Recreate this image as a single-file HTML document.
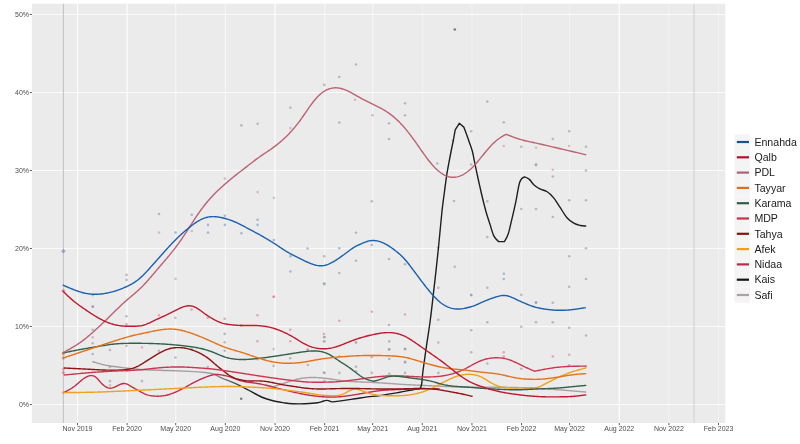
<!DOCTYPE html><html><head><meta charset="utf-8"><style>html,body{margin:0;padding:0;background:#fff;width:800px;height:444px;overflow:hidden}svg{display:block;will-change:transform}text{font-family:"Liberation Sans",sans-serif}</style></head><body>
<svg width="800" height="444" viewBox="0 0 800 444">
<rect x="0" y="0" width="800" height="444" fill="#ffffff"/>
<rect x="31.9" y="3.8" width="693.4" height="419.2" fill="#ebebeb"/>
<defs><linearGradient id="kg" gradientUnits="userSpaceOnUse" x1="212" y1="0" x2="250" y2="0"><stop offset="0" stop-color="#a49ca2"/><stop offset="1" stop-color="#1e1e1e"/></linearGradient><clipPath id="cp"><rect x="31.9" y="3.8" width="693.4" height="419.2"/></clipPath></defs>
<g stroke="#ffffff" stroke-width="1.0" stroke-opacity="0.8"><line x1="31.9" x2="725.3" y1="404.50" y2="404.50"/><line x1="31.9" x2="725.3" y1="326.50" y2="326.50"/><line x1="31.9" x2="725.3" y1="248.50" y2="248.50"/><line x1="31.9" x2="725.3" y1="170.50" y2="170.50"/><line x1="31.9" x2="725.3" y1="92.50" y2="92.50"/><line x1="31.9" x2="725.3" y1="14.50" y2="14.50"/></g>
<g stroke="#ffffff" stroke-width="1.2"><line x1="77.50" x2="77.50" y1="3.8" y2="423.0" stroke-opacity="0.90"/><line x1="127.14" x2="127.14" y1="3.8" y2="423.0" stroke-opacity="0.90"/><line x1="175.71" x2="175.71" y1="3.8" y2="423.0" stroke-opacity="0.55"/><line x1="225.35" x2="225.35" y1="3.8" y2="423.0" stroke-opacity="0.55"/><line x1="274.99" x2="274.99" y1="3.8" y2="423.0" stroke-opacity="0.90"/><line x1="324.64" x2="324.64" y1="3.8" y2="423.0" stroke-opacity="0.55"/><line x1="372.66" x2="372.66" y1="3.8" y2="423.0" stroke-opacity="0.55"/><line x1="422.30" x2="422.30" y1="3.8" y2="423.0" stroke-opacity="0.30"/><line x1="471.95" x2="471.95" y1="3.8" y2="423.0" stroke-opacity="0.30"/><line x1="521.59" x2="521.59" y1="3.8" y2="423.0" stroke-opacity="0.30"/><line x1="569.62" x2="569.62" y1="3.8" y2="423.0" stroke-opacity="0.30"/><line x1="619.26" x2="619.26" y1="3.8" y2="423.0" stroke-opacity="0.90"/><line x1="668.90" x2="668.90" y1="3.8" y2="423.0" stroke-opacity="0.30"/><line x1="718.54" x2="718.54" y1="3.8" y2="423.0" stroke-opacity="0.30"/></g>
<line x1="63.4" x2="63.4" y1="3.8" y2="423.0" stroke="#bbbbbb" stroke-width="0.9"/>
<line x1="694" x2="694" y1="3.8" y2="423.0" stroke="#d4d4d4" stroke-width="1.2"/>
<g clip-path="url(#cp)">
<circle cx="241.4" cy="125.4" r="1.30" fill="#8e8e96" fill-opacity="0.55"/>
<circle cx="257.6" cy="123.7" r="1.30" fill="#8e8e96" fill-opacity="0.55"/>
<circle cx="290.4" cy="107.8" r="1.30" fill="#8e8e96" fill-opacity="0.55"/>
<circle cx="290.4" cy="128.1" r="1.30" fill="#c8909c" fill-opacity="0.55"/>
<circle cx="324.2" cy="84.9" r="1.30" fill="#8e8e96" fill-opacity="0.55"/>
<circle cx="454.8" cy="29.5" r="1.30" fill="#555555" fill-opacity="0.75"/>
<circle cx="356.0" cy="64.5" r="1.30" fill="#8e8e96" fill-opacity="0.55"/>
<circle cx="339.3" cy="77.0" r="1.30" fill="#8e8e96" fill-opacity="0.55"/>
<circle cx="355.0" cy="99.8" r="1.30" fill="#c8909c" fill-opacity="0.55"/>
<circle cx="405.0" cy="103.3" r="1.30" fill="#8e8e96" fill-opacity="0.55"/>
<circle cx="405.0" cy="115.2" r="1.30" fill="#8e8e96" fill-opacity="0.55"/>
<circle cx="372.5" cy="115.2" r="1.30" fill="#c8909c" fill-opacity="0.55"/>
<circle cx="339.3" cy="122.6" r="1.30" fill="#8e8e96" fill-opacity="0.55"/>
<circle cx="389.0" cy="123.3" r="1.30" fill="#8e8e96" fill-opacity="0.55"/>
<circle cx="389.0" cy="139.0" r="1.30" fill="#8e8e96" fill-opacity="0.55"/>
<circle cx="487.3" cy="101.6" r="1.30" fill="#8e8e96" fill-opacity="0.55"/>
<circle cx="503.8" cy="122.2" r="1.30" fill="#8e8e96" fill-opacity="0.55"/>
<circle cx="471.2" cy="131.3" r="1.30" fill="#8e8e96" fill-opacity="0.55"/>
<circle cx="503.8" cy="146.0" r="1.30" fill="#c8909c" fill-opacity="0.55"/>
<circle cx="521.3" cy="146.7" r="1.30" fill="#8e8e96" fill-opacity="0.55"/>
<circle cx="536.0" cy="147.8" r="1.30" fill="#c8909c" fill-opacity="0.55"/>
<circle cx="536.0" cy="164.2" r="1.30" fill="#8e8e96" fill-opacity="0.55"/>
<circle cx="552.8" cy="139.0" r="1.30" fill="#8e8e96" fill-opacity="0.55"/>
<circle cx="569.2" cy="131.3" r="1.30" fill="#8e8e96" fill-opacity="0.55"/>
<circle cx="569.2" cy="146.0" r="1.30" fill="#c8909c" fill-opacity="0.55"/>
<circle cx="586.0" cy="146.7" r="1.30" fill="#8e8e96" fill-opacity="0.55"/>
<circle cx="437.3" cy="163.5" r="1.30" fill="#8e8e96" fill-opacity="0.55"/>
<circle cx="471.2" cy="164.6" r="1.30" fill="#8e8e96" fill-opacity="0.55"/>
<circle cx="453.0" cy="140.8" r="1.30" fill="#c8909c" fill-opacity="0.55"/>
<circle cx="371.8" cy="201.3" r="1.30" fill="#8e8e96" fill-opacity="0.55"/>
<circle cx="454.0" cy="201.0" r="1.30" fill="#8e8e96" fill-opacity="0.55"/>
<circle cx="487.3" cy="201.3" r="1.30" fill="#8e8e96" fill-opacity="0.55"/>
<circle cx="536.0" cy="165.3" r="1.30" fill="#8e8e96" fill-opacity="0.55"/>
<circle cx="552.8" cy="176.5" r="1.30" fill="#8e8e96" fill-opacity="0.55"/>
<circle cx="552.8" cy="169.8" r="1.30" fill="#c8909c" fill-opacity="0.55"/>
<circle cx="586.0" cy="170.5" r="1.30" fill="#8e8e96" fill-opacity="0.55"/>
<circle cx="521.3" cy="209.0" r="1.30" fill="#8e8e96" fill-opacity="0.55"/>
<circle cx="536.0" cy="209.0" r="1.30" fill="#8e8e96" fill-opacity="0.55"/>
<circle cx="552.8" cy="217.0" r="1.30" fill="#8e8e96" fill-opacity="0.55"/>
<circle cx="569.2" cy="200.3" r="1.30" fill="#8e8e96" fill-opacity="0.55"/>
<circle cx="586.0" cy="200.3" r="1.30" fill="#8e8e96" fill-opacity="0.55"/>
<circle cx="487.3" cy="237.0" r="1.30" fill="#8e8e96" fill-opacity="0.55"/>
<circle cx="586.0" cy="248.2" r="1.30" fill="#8e8e96" fill-opacity="0.55"/>
<circle cx="569.2" cy="256.3" r="1.30" fill="#8e8e96" fill-opacity="0.55"/>
<circle cx="356.0" cy="232.8" r="1.30" fill="#8e8e96" fill-opacity="0.55"/>
<circle cx="339.3" cy="248.2" r="1.30" fill="#6f8cc0" fill-opacity="0.55"/>
<circle cx="356.0" cy="260.8" r="1.30" fill="#8e8e96" fill-opacity="0.55"/>
<circle cx="371.8" cy="245.0" r="1.30" fill="#6f8cc0" fill-opacity="0.55"/>
<circle cx="389.0" cy="259.0" r="1.30" fill="#8e8e96" fill-opacity="0.55"/>
<circle cx="405.0" cy="264.3" r="1.30" fill="#8e8e96" fill-opacity="0.55"/>
<circle cx="339.3" cy="273.0" r="1.30" fill="#8e8e96" fill-opacity="0.55"/>
<circle cx="324.2" cy="283.2" r="1.30" fill="#8e8e96" fill-opacity="0.55"/>
<circle cx="438.3" cy="247.5" r="1.30" fill="#8e8e96" fill-opacity="0.55"/>
<circle cx="454.8" cy="266.8" r="1.30" fill="#8e8e96" fill-opacity="0.55"/>
<circle cx="438.3" cy="287.8" r="1.30" fill="#8e8e96" fill-opacity="0.55"/>
<circle cx="471.2" cy="294.8" r="1.30" fill="#6f8cc0" fill-opacity="0.55"/>
<circle cx="487.3" cy="287.8" r="1.30" fill="#8e8e96" fill-opacity="0.55"/>
<circle cx="503.8" cy="273.8" r="1.30" fill="#6f8cc0" fill-opacity="0.55"/>
<circle cx="503.8" cy="279.0" r="1.30" fill="#6f8cc0" fill-opacity="0.55"/>
<circle cx="521.3" cy="294.8" r="1.30" fill="#8e8e96" fill-opacity="0.55"/>
<circle cx="536.0" cy="302.8" r="1.30" fill="#6f8cc0" fill-opacity="0.55"/>
<circle cx="552.8" cy="302.8" r="1.30" fill="#8e8e96" fill-opacity="0.55"/>
<circle cx="569.2" cy="286.7" r="1.30" fill="#8e8e96" fill-opacity="0.55"/>
<circle cx="586.0" cy="279.0" r="1.30" fill="#8e8e96" fill-opacity="0.55"/>
<circle cx="159.0" cy="214.0" r="1.30" fill="#6f8cc0" fill-opacity="0.55"/>
<circle cx="159.0" cy="232.6" r="1.30" fill="#c8909c" fill-opacity="0.55"/>
<circle cx="175.5" cy="232.6" r="1.30" fill="#6f8cc0" fill-opacity="0.55"/>
<circle cx="191.8" cy="214.7" r="1.30" fill="#6f8cc0" fill-opacity="0.55"/>
<circle cx="191.8" cy="231.0" r="1.30" fill="#c8909c" fill-opacity="0.55"/>
<circle cx="208.0" cy="224.9" r="1.30" fill="#6f8cc0" fill-opacity="0.55"/>
<circle cx="208.0" cy="232.6" r="1.30" fill="#6f8cc0" fill-opacity="0.55"/>
<circle cx="224.9" cy="178.6" r="1.30" fill="#c8909c" fill-opacity="0.55"/>
<circle cx="224.9" cy="215.7" r="1.30" fill="#6f8cc0" fill-opacity="0.55"/>
<circle cx="224.9" cy="224.9" r="1.30" fill="#6f8cc0" fill-opacity="0.55"/>
<circle cx="241.4" cy="233.3" r="1.30" fill="#6f8cc0" fill-opacity="0.55"/>
<circle cx="257.6" cy="192.1" r="1.30" fill="#c8909c" fill-opacity="0.55"/>
<circle cx="257.6" cy="219.8" r="1.30" fill="#6f8cc0" fill-opacity="0.55"/>
<circle cx="257.6" cy="224.9" r="1.30" fill="#6f8cc0" fill-opacity="0.55"/>
<circle cx="273.9" cy="197.8" r="1.30" fill="#c8909c" fill-opacity="0.55"/>
<circle cx="273.9" cy="240.1" r="1.30" fill="#6f8cc0" fill-opacity="0.55"/>
<circle cx="290.4" cy="256.3" r="1.30" fill="#6f8cc0" fill-opacity="0.55"/>
<circle cx="290.4" cy="271.5" r="1.30" fill="#6f8cc0" fill-opacity="0.55"/>
<circle cx="307.6" cy="248.5" r="1.30" fill="#6f8cc0" fill-opacity="0.55"/>
<circle cx="324.2" cy="256.3" r="1.30" fill="#8e8e96" fill-opacity="0.55"/>
<circle cx="324.2" cy="284.3" r="1.30" fill="#6f8cc0" fill-opacity="0.55"/>
<circle cx="126.6" cy="274.9" r="1.30" fill="#8e8e96" fill-opacity="0.55"/>
<circle cx="126.6" cy="279.9" r="1.30" fill="#6f8cc0" fill-opacity="0.55"/>
<circle cx="175.5" cy="278.9" r="1.30" fill="#c8909c" fill-opacity="0.55"/>
<circle cx="273.9" cy="296.8" r="1.30" fill="#e0707e" fill-opacity="0.55"/>
<circle cx="92.8" cy="295.1" r="1.30" fill="#6f8cc0" fill-opacity="0.55"/>
<circle cx="92.8" cy="307.0" r="1.30" fill="#8e8e96" fill-opacity="0.55"/>
<circle cx="92.7" cy="306.2" r="1.30" fill="#8e8e96" fill-opacity="0.55"/>
<circle cx="92.7" cy="329.8" r="1.30" fill="#8e8e96" fill-opacity="0.55"/>
<circle cx="92.7" cy="337.2" r="1.30" fill="#c8909c" fill-opacity="0.55"/>
<circle cx="92.7" cy="343.3" r="1.30" fill="#8e8e96" fill-opacity="0.55"/>
<circle cx="92.7" cy="354.1" r="1.30" fill="#8e8e96" fill-opacity="0.55"/>
<circle cx="110.0" cy="350.0" r="1.30" fill="#8e8e96" fill-opacity="0.55"/>
<circle cx="110.0" cy="367.0" r="1.30" fill="#8e8e96" fill-opacity="0.55"/>
<circle cx="110.0" cy="381.1" r="1.30" fill="#8e8e96" fill-opacity="0.55"/>
<circle cx="110.0" cy="385.2" r="1.30" fill="#c8909c" fill-opacity="0.55"/>
<circle cx="126.5" cy="316.3" r="1.30" fill="#8e8e96" fill-opacity="0.55"/>
<circle cx="126.5" cy="324.4" r="1.30" fill="#8e8e96" fill-opacity="0.55"/>
<circle cx="126.5" cy="345.7" r="1.30" fill="#8e8e96" fill-opacity="0.55"/>
<circle cx="126.5" cy="371.0" r="1.30" fill="#8e8e96" fill-opacity="0.55"/>
<circle cx="142.0" cy="347.4" r="1.30" fill="#c8909c" fill-opacity="0.55"/>
<circle cx="142.0" cy="381.1" r="1.30" fill="#8e8e96" fill-opacity="0.55"/>
<circle cx="158.9" cy="315.3" r="1.30" fill="#e0707e" fill-opacity="0.55"/>
<circle cx="158.9" cy="350.7" r="1.30" fill="#8e8e96" fill-opacity="0.55"/>
<circle cx="175.4" cy="317.7" r="1.30" fill="#8e8e96" fill-opacity="0.55"/>
<circle cx="175.4" cy="357.5" r="1.30" fill="#8e8e96" fill-opacity="0.55"/>
<circle cx="191.6" cy="309.6" r="1.30" fill="#e0707e" fill-opacity="0.55"/>
<circle cx="191.6" cy="349.1" r="1.30" fill="#8e8e96" fill-opacity="0.55"/>
<circle cx="207.8" cy="317.7" r="1.30" fill="#8e8e96" fill-opacity="0.55"/>
<circle cx="207.8" cy="367.0" r="1.30" fill="#8e8e96" fill-opacity="0.55"/>
<circle cx="224.7" cy="318.7" r="1.30" fill="#e0707e" fill-opacity="0.55"/>
<circle cx="224.7" cy="333.9" r="1.30" fill="#8e8e96" fill-opacity="0.55"/>
<circle cx="224.7" cy="342.3" r="1.30" fill="#8e8e96" fill-opacity="0.55"/>
<circle cx="224.7" cy="350.7" r="1.30" fill="#8e8e96" fill-opacity="0.55"/>
<circle cx="241.2" cy="325.4" r="1.30" fill="#e0707e" fill-opacity="0.55"/>
<circle cx="241.2" cy="398.7" r="1.30" fill="#555555" fill-opacity="0.75"/>
<circle cx="257.4" cy="315.3" r="1.30" fill="#e0707e" fill-opacity="0.55"/>
<circle cx="257.4" cy="341.3" r="1.30" fill="#e0707e" fill-opacity="0.55"/>
<circle cx="257.4" cy="359.2" r="1.30" fill="#8e8e96" fill-opacity="0.55"/>
<circle cx="273.6" cy="296.7" r="1.30" fill="#e0707e" fill-opacity="0.55"/>
<circle cx="273.6" cy="349.1" r="1.30" fill="#c8909c" fill-opacity="0.55"/>
<circle cx="273.6" cy="365.9" r="1.30" fill="#8e8e96" fill-opacity="0.55"/>
<circle cx="290.2" cy="329.8" r="1.30" fill="#e0707e" fill-opacity="0.55"/>
<circle cx="290.2" cy="341.3" r="1.30" fill="#e0707e" fill-opacity="0.55"/>
<circle cx="290.2" cy="358.2" r="1.30" fill="#8e8e96" fill-opacity="0.55"/>
<circle cx="307.4" cy="350.1" r="1.30" fill="#8e8e96" fill-opacity="0.55"/>
<circle cx="323.9" cy="333.9" r="1.30" fill="#e0707e" fill-opacity="0.55"/>
<circle cx="323.9" cy="341.3" r="1.30" fill="#8e8e96" fill-opacity="0.55"/>
<circle cx="323.9" cy="372.7" r="1.30" fill="#8e8e96" fill-opacity="0.55"/>
<circle cx="339.3" cy="320.8" r="1.30" fill="#e0707e" fill-opacity="0.55"/>
<circle cx="371.8" cy="311.7" r="1.30" fill="#e0707e" fill-opacity="0.55"/>
<circle cx="405.0" cy="314.5" r="1.30" fill="#e0707e" fill-opacity="0.55"/>
<circle cx="324.2" cy="337.3" r="1.30" fill="#8e8e96" fill-opacity="0.55"/>
<circle cx="356.0" cy="342.5" r="1.30" fill="#8e8e96" fill-opacity="0.55"/>
<circle cx="389.0" cy="325.0" r="1.30" fill="#8e8e96" fill-opacity="0.55"/>
<circle cx="389.0" cy="349.5" r="1.30" fill="#8e8e96" fill-opacity="0.55"/>
<circle cx="405.0" cy="348.8" r="1.30" fill="#8e8e96" fill-opacity="0.55"/>
<circle cx="405.0" cy="361.8" r="1.30" fill="#8e8e96" fill-opacity="0.55"/>
<circle cx="438.3" cy="319.8" r="1.30" fill="#8e8e96" fill-opacity="0.55"/>
<circle cx="438.3" cy="342.5" r="1.30" fill="#e0707e" fill-opacity="0.55"/>
<circle cx="471.2" cy="295.3" r="1.30" fill="#8e8e96" fill-opacity="0.55"/>
<circle cx="471.2" cy="330.3" r="1.30" fill="#8e8e96" fill-opacity="0.55"/>
<circle cx="471.2" cy="352.3" r="1.30" fill="#8e8e96" fill-opacity="0.55"/>
<circle cx="487.3" cy="322.2" r="1.30" fill="#8e8e96" fill-opacity="0.55"/>
<circle cx="487.3" cy="363.5" r="1.30" fill="#8e8e96" fill-opacity="0.55"/>
<circle cx="503.8" cy="352.3" r="1.30" fill="#e0707e" fill-opacity="0.55"/>
<circle cx="503.8" cy="356.5" r="1.30" fill="#8e8e96" fill-opacity="0.55"/>
<circle cx="521.3" cy="326.8" r="1.30" fill="#8e8e96" fill-opacity="0.55"/>
<circle cx="521.3" cy="368.8" r="1.30" fill="#8e8e96" fill-opacity="0.55"/>
<circle cx="536.0" cy="302.3" r="1.30" fill="#8e8e96" fill-opacity="0.55"/>
<circle cx="536.0" cy="322.2" r="1.30" fill="#8e8e96" fill-opacity="0.55"/>
<circle cx="552.8" cy="322.2" r="1.30" fill="#8e8e96" fill-opacity="0.55"/>
<circle cx="552.8" cy="356.5" r="1.30" fill="#e0707e" fill-opacity="0.55"/>
<circle cx="569.2" cy="327.8" r="1.30" fill="#8e8e96" fill-opacity="0.55"/>
<circle cx="569.2" cy="354.8" r="1.30" fill="#e0707e" fill-opacity="0.55"/>
<circle cx="569.2" cy="365.3" r="1.30" fill="#8e8e96" fill-opacity="0.55"/>
<circle cx="586.0" cy="335.5" r="1.30" fill="#8e8e96" fill-opacity="0.55"/>
<circle cx="586.0" cy="366.3" r="1.30" fill="#8e8e96" fill-opacity="0.55"/>
<circle cx="324.5" cy="337.0" r="1.30" fill="#8e8e96" fill-opacity="0.55"/>
<circle cx="324.5" cy="341.4" r="1.30" fill="#c8909c" fill-opacity="0.55"/>
<circle cx="307.9" cy="349.3" r="1.30" fill="#c8909c" fill-opacity="0.55"/>
<circle cx="356.0" cy="342.3" r="1.30" fill="#c8909c" fill-opacity="0.55"/>
<circle cx="389.3" cy="341.4" r="1.30" fill="#8e8e96" fill-opacity="0.55"/>
<circle cx="405.1" cy="349.3" r="1.30" fill="#8e8e96" fill-opacity="0.55"/>
<circle cx="389.3" cy="349.3" r="1.30" fill="#8e8e96" fill-opacity="0.55"/>
<circle cx="307.9" cy="365.0" r="1.30" fill="#8e8e96" fill-opacity="0.55"/>
<circle cx="324.5" cy="372.9" r="1.30" fill="#8e8e96" fill-opacity="0.55"/>
<circle cx="339.4" cy="372.9" r="1.30" fill="#8e8e96" fill-opacity="0.55"/>
<circle cx="356.0" cy="366.8" r="1.30" fill="#8e8e96" fill-opacity="0.55"/>
<circle cx="356.0" cy="371.2" r="1.30" fill="#8e8e96" fill-opacity="0.55"/>
<circle cx="371.8" cy="372.9" r="1.30" fill="#8e8e96" fill-opacity="0.55"/>
<circle cx="389.3" cy="373.8" r="1.30" fill="#8e8e96" fill-opacity="0.55"/>
<circle cx="405.1" cy="372.9" r="1.30" fill="#8e8e96" fill-opacity="0.55"/>
<circle cx="339.4" cy="356.3" r="1.30" fill="#c8909c" fill-opacity="0.55"/>
<circle cx="371.8" cy="357.1" r="1.30" fill="#8e8e96" fill-opacity="0.55"/>
<circle cx="389.3" cy="358.9" r="1.30" fill="#8e8e96" fill-opacity="0.55"/>
<circle cx="405.1" cy="362.4" r="1.30" fill="#8e8e96" fill-opacity="0.55"/>
<circle cx="324.5" cy="380.8" r="1.30" fill="#8e8e96" fill-opacity="0.55"/>
<circle cx="339.4" cy="380.8" r="1.30" fill="#8e8e96" fill-opacity="0.55"/>
<circle cx="438.4" cy="372.9" r="1.30" fill="#8e8e96" fill-opacity="0.55"/>
<path d="M63.4,248.8 L65.8,251.2 L63.4,253.6 L61.0,251.2 Z" fill="#6a84b4" fill-opacity="0.60"/>
<path d="M63.4,288.6 L65.6,290.8 L63.4,293.0 L61.2,290.8 Z" fill="#e06070" fill-opacity="0.55"/>
<path d="M63.4,350.9 L65.3,352.8 L63.4,354.7 L61.5,352.8 Z" fill="#d08090" fill-opacity="0.50"/>
<path d="M63.4,352.7 L65.3,354.6 L63.4,356.5 L61.5,354.6 Z" fill="#f09040" fill-opacity="0.50"/>
<path d="M63.4,356.3 L65.3,358.2 L63.4,360.1 L61.5,358.2 Z" fill="#608878" fill-opacity="0.50"/>
<path d="M63.4,367.3 L65.3,369.2 L63.4,371.1 L61.5,369.2 Z" fill="#e07080" fill-opacity="0.50"/>
<path d="M63.4,370.8 L65.3,372.7 L63.4,374.6 L61.5,372.7 Z" fill="#c05060" fill-opacity="0.50"/>
<path d="M63.4,390.7 L65.4,392.7 L63.4,394.7 L61.4,392.7 Z" fill="#f08a50" fill-opacity="0.55"/>
<path d="M272.0,387.00 L273.0,386.69 L274.0,386.39 L275.0,386.08 L276.0,385.77 L277.0,385.46 L278.0,385.15 L279.0,384.84 L280.0,384.52 L281.0,384.21 L282.0,383.89 L283.0,383.58 L284.0,383.25 L285.0,382.93 L286.0,382.61 L287.0,382.28 L288.0,381.95 L289.0,381.63 L290.0,381.31 L291.0,381.00 L292.0,380.69 L293.0,380.39 L294.0,380.09 L295.0,379.81 L296.0,379.55 L297.0,379.29 L298.0,379.05 L299.0,378.83 L300.0,378.63 L301.0,378.44 L302.0,378.27 L303.0,378.12 L304.0,377.99 L305.0,377.87 L306.0,377.77 L307.0,377.68 L308.0,377.61 L309.0,377.56 L310.0,377.51 L311.0,377.49 L312.0,377.47 L313.0,377.47 L314.0,377.48 L315.0,377.51 L316.0,377.54 L317.0,377.58 L318.0,377.64 L319.0,377.70 L320.0,377.77 L321.0,377.85 L322.0,377.93 L323.0,378.02 L324.0,378.12 L325.0,378.23 L326.0,378.34 L327.0,378.46 L328.0,378.59 L329.0,378.73 L330.0,378.87 L331.0,379.03 L332.0,379.19 L333.0,379.35 L334.0,379.51 L335.0,379.68 L336.0,379.85 L337.0,380.01 L338.0,380.17 L339.0,380.32 L340.0,380.47 L341.0,380.60 L342.0,380.73 L343.0,380.84 L344.0,380.95 L345.0,381.05 L346.0,381.14 L347.0,381.22 L348.0,381.30 L349.0,381.37 L350.0,381.43 L351.0,381.50 L352.0,381.55 L353.0,381.60 L354.0,381.65 L355.0,381.70 L356.0,381.74 L357.0,381.78 L358.0,381.82 L359.0,381.86 L360.0,381.90 L361.0,381.93 L362.0,381.97 L363.0,382.01 L364.0,382.06 L365.0,382.10 L366.0,382.14 L367.0,382.18 L368.0,382.23 L369.0,382.27 L370.0,382.32 L371.0,382.37 L372.0,382.41 L373.0,382.46 L374.0,382.52 L375.0,382.57 L376.0,382.62 L377.0,382.68 L378.0,382.73 L379.0,382.79 L380.0,382.85 L381.0,382.92 L382.0,382.98 L383.0,383.04 L384.0,383.11 L385.0,383.18 L386.0,383.25 L387.0,383.32 L388.0,383.39 L389.0,383.46 L390.0,383.53 L391.0,383.60 L392.0,383.67 L393.0,383.74 L394.0,383.81 L395.0,383.88 L396.0,383.95 L397.0,384.02 L398.0,384.09 L399.0,384.15 L400.0,384.22 L401.0,384.28 L402.0,384.35 L403.0,384.41 L404.0,384.47 L405.0,384.52 L406.0,384.58 L407.0,384.63 L408.0,384.69 L409.0,384.74 L410.0,384.79 L411.0,384.84 L412.0,384.89 L413.0,384.94 L414.0,384.99 L415.0,385.04 L416.0,385.09 L417.0,385.13 L418.0,385.18 L419.0,385.23 L420.0,385.27 L421.0,385.32 L422.0,385.37 L423.0,385.41 L424.0,385.46 L425.0,385.51 L426.0,385.55 L427.0,385.60 L428.0,385.65 L429.0,385.70 L430.0,385.75 L431.0,385.79 L432.0,385.84 L433.0,385.89 L434.0,385.94 L435.0,385.99 L436.0,386.03 L437.0,386.08 L438.0,386.13 L439.0,386.17 L440.0,386.22 L441.0,386.26 L442.0,386.31 L443.0,386.35 L444.0,386.40 L445.0,386.44 L446.0,386.48 L447.0,386.52 L448.0,386.56 L449.0,386.60 L450.0,386.63 L451.0,386.67 L452.0,386.70 L453.0,386.73 L454.0,386.77 L455.0,386.80 L456.0,386.82 L457.0,386.85 L458.0,386.87 L459.0,386.90 L460.0,386.92 L461.0,386.94 L462.0,386.96 L463.0,386.98 L464.0,387.00 L465.0,387.01 L466.0,387.03 L467.0,387.04 L468.0,387.05 L469.0,387.07 L470.0,387.08 L471.0,387.09 L472.0,387.10 L473.0,387.10 L474.0,387.11 L475.0,387.12 L476.0,387.13 L477.0,387.13 L478.0,387.14 L479.0,387.14 L480.0,387.15 L481.0,387.15 L482.0,387.16 L483.0,387.16 L484.0,387.17 L485.0,387.17 L486.0,387.17 L487.0,387.18 L488.0,387.18 L489.0,387.18 L490.0,387.19 L491.0,387.19 L492.0,387.20 L493.0,387.20 L494.0,387.21 L495.0,387.21 L496.0,387.22 L497.0,387.23 L498.0,387.23 L499.0,387.24 L500.0,387.25 L501.0,387.26 L502.0,387.27 L503.0,387.28 L504.0,387.29 L505.0,387.30 L506.0,387.31 L507.0,387.33 L508.0,387.34 L509.0,387.36 L510.0,387.38 L511.0,387.40 L512.0,387.42 L513.0,387.44 L514.0,387.46 L515.0,387.48 L516.0,387.51 L517.0,387.53 L518.0,387.56 L519.0,387.59 L520.0,387.61 L521.0,387.64 L522.0,387.68 L523.0,387.71 L524.0,387.74 L525.0,387.78 L526.0,387.82 L527.0,387.86 L528.0,387.90 L529.0,387.94 L530.0,387.98 L531.0,388.02 L532.0,388.07 L533.0,388.12 L534.0,388.17 L535.0,388.22 L536.0,388.27 L537.0,388.32 L538.0,388.38 L539.0,388.44 L540.0,388.50 L541.0,388.56 L542.0,388.62 L543.0,388.68 L544.0,388.75 L545.0,388.81 L546.0,388.88 L547.0,388.95 L548.0,389.02 L549.0,389.09 L550.0,389.16 L551.0,389.23 L552.0,389.30 L553.0,389.37 L554.0,389.45 L555.0,389.52 L556.0,389.60 L557.0,389.68 L558.0,389.75 L559.0,389.83 L560.0,389.91 L561.0,389.99 L562.0,390.06 L563.0,390.14 L564.0,390.22 L565.0,390.30 L566.0,390.38 L567.0,390.46 L568.0,390.54 L569.0,390.62 L570.0,390.70 L571.0,390.79 L572.0,390.87 L573.0,390.95 L574.0,391.03 L575.0,391.11 L576.0,391.20 L577.0,391.28 L578.0,391.36 L579.0,391.44 L580.0,391.53 L581.0,391.61 L582.0,391.69 L583.0,391.78 L584.0,391.86 L585.0,391.94 L585.7,392.00" fill="none" stroke="#a8a0a2" stroke-width="1.40" stroke-linejoin="round" stroke-linecap="round"/>
<path d="M92.9,361.8 C95.5,362.5 103.2,364.8 108.7,365.8 C114.2,366.8 120.4,367.4 125.6,368.0 C130.8,368.6 132.9,369.1 140.0,369.5 C147.1,369.9 159.7,370.2 168.0,370.5 C176.3,370.8 183.8,371.1 190.0,371.4 C196.2,371.7 201.1,372.1 205.0,372.5 C208.9,372.9 210.9,373.1 213.7,374.0 C216.5,374.9 218.4,376.6 222.0,378.2 C225.6,379.8 230.7,381.4 235.1,383.4 C239.5,385.4 243.8,387.7 248.2,390.0 C252.6,392.3 257.4,395.2 261.4,397.0 C265.4,398.8 268.1,399.5 272.0,400.5 C275.9,401.5 281.6,402.4 285.0,403.0 C288.4,403.6 289.2,403.7 292.5,403.8 C295.8,403.9 300.8,404.0 305.0,403.8 C309.2,403.6 314.4,403.3 317.5,402.8 C320.6,402.3 322.1,401.4 323.8,401.0 C325.5,400.6 326.1,400.2 327.5,400.4 C328.9,400.5 330.0,401.9 332.5,401.9 C335.0,401.9 338.8,401.1 342.5,400.6 C346.2,400.1 350.8,399.4 355.0,398.8 C359.2,398.2 363.3,397.4 367.5,396.9 C371.7,396.4 374.8,396.3 380.0,395.6 C385.2,394.9 393.1,393.5 398.8,392.5 C404.5,391.5 410.6,390.1 414.0,389.5 C417.4,388.9 418.2,389.4 419.5,388.6 C420.8,387.9 420.9,388.1 421.5,385.0 C422.1,381.9 422.2,376.7 423.1,370.0 C424.0,363.3 425.4,353.3 426.6,345.0 C427.8,336.7 428.9,330.7 430.3,320.0 C431.7,309.3 433.5,292.6 434.9,280.7 C436.2,268.8 437.2,259.9 438.4,248.3 C439.6,236.7 441.0,220.2 442.0,211.0 C443.0,201.8 443.5,198.9 444.3,193.0 C445.1,187.1 445.7,181.6 446.6,175.8 C447.5,170.0 448.7,164.0 449.8,158.0 C450.9,152.0 453.4,140.0 453.4,140.0 C453.4,140.0 455.2,129.8 455.2,129.8 C455.2,129.8 459.3,123.3 459.3,123.3 C459.3,123.3 463.8,127.1 463.8,127.1 C463.8,127.1 466.6,134.5 468.0,138.5 C469.4,142.5 471.1,146.6 472.3,151.0 C473.5,155.4 474.2,160.4 475.2,165.2 C476.2,170.0 477.4,175.4 478.4,180.0 C479.4,184.6 480.1,187.8 481.3,193.0 C482.5,198.2 484.4,205.8 485.8,211.0 C487.2,216.2 488.7,220.2 490.0,224.4 C491.3,228.6 492.4,233.0 493.8,235.9 C495.2,238.8 498.6,241.6 498.6,241.6 C498.6,241.6 504.4,241.6 504.4,241.6 C504.4,241.6 506.9,237.8 508.2,234.0 C509.5,230.2 510.7,224.0 512.0,218.6 C513.3,213.2 514.6,207.5 515.9,201.4 C517.2,195.3 518.3,186.3 519.7,182.2 C521.1,178.1 524.5,176.9 524.5,176.9 C524.5,176.9 527.7,178.0 529.3,179.4 C530.9,180.8 532.4,183.5 534.1,185.1 C535.9,186.7 537.7,187.8 539.8,188.9 C541.9,190.0 544.5,190.1 546.8,191.5 C549.1,192.9 551.2,194.9 553.5,197.6 C555.8,200.3 558.0,204.3 560.3,207.7 C562.5,211.1 564.8,215.2 567.0,217.8 C569.2,220.4 571.5,221.9 573.8,223.2 C576.0,224.5 578.5,225.0 580.5,225.5 C582.5,226.0 584.8,225.9 585.7,226.0" fill="none" stroke="url(#kg)" stroke-width="1.40" stroke-linejoin="round" stroke-linecap="round"/>
<path d="M64.2,392.30 L65.2,391.80 L66.2,391.29 L67.2,390.77 L68.2,390.24 L69.2,389.68 L70.2,389.11 L71.2,388.50 L72.2,387.87 L73.2,387.19 L74.2,386.48 L75.2,385.71 L76.2,384.90 L77.2,384.06 L78.2,383.20 L79.2,382.32 L80.2,381.45 L81.2,380.60 L82.2,379.77 L83.2,378.99 L84.2,378.26 L85.2,377.60 L86.2,377.02 L87.2,376.53 L88.2,376.14 L89.2,375.85 L90.2,375.67 L91.2,375.60 L92.2,375.66 L93.2,375.85 L94.2,376.21 L95.2,376.77 L96.2,377.55 L97.2,378.51 L98.2,379.59 L99.2,380.73 L100.2,381.88 L101.2,382.98 L102.2,383.99 L103.2,384.91 L104.2,385.73 L105.2,386.45 L106.2,387.05 L107.2,387.53 L108.2,387.89 L109.2,388.12 L110.2,388.20 L111.2,388.14 L112.2,387.94 L113.2,387.63 L114.2,387.24 L115.2,386.78 L116.2,386.28 L117.2,385.77 L118.2,385.27 L119.2,384.79 L120.2,384.37 L121.2,384.00 L122.2,383.73 L123.2,383.55 L124.2,383.50 L125.2,383.58 L126.2,383.82 L127.2,384.20 L128.2,384.69 L129.2,385.26 L130.2,385.87 L131.2,386.48 L132.2,387.07 L133.2,387.65 L134.2,388.21 L135.2,388.76 L136.2,389.30 L137.2,389.85 L138.2,390.41 L139.2,390.98 L140.2,391.55 L141.2,392.12 L142.2,392.66 L143.2,393.18 L144.2,393.67 L145.2,394.12 L146.2,394.51 L147.2,394.85 L148.2,395.13 L149.2,395.37 L150.2,395.57 L151.2,395.74 L152.2,395.87 L153.2,395.97 L154.2,396.06 L155.2,396.12 L156.2,396.16 L157.2,396.18 L158.2,396.18 L159.2,396.15 L160.2,396.10 L161.2,396.02 L162.2,395.92 L163.2,395.79 L164.2,395.63 L165.2,395.45 L166.2,395.24 L167.2,395.01 L168.2,394.74 L169.2,394.46 L170.2,394.14 L171.2,393.80 L172.2,393.44 L173.2,393.06 L174.2,392.66 L175.2,392.24 L176.2,391.80 L177.2,391.35 L178.2,390.88 L179.2,390.40 L180.2,389.91 L181.2,389.41 L182.2,388.90 L183.2,388.37 L184.2,387.84 L185.2,387.29 L186.2,386.74 L187.2,386.18 L188.2,385.62 L189.2,385.06 L190.2,384.50 L191.2,383.94 L192.2,383.39 L193.2,382.86 L194.2,382.33 L195.2,381.83 L196.2,381.33 L197.2,380.84 L198.2,380.37 L199.2,379.90 L200.2,379.45 L201.2,379.01 L202.2,378.57 L203.2,378.15 L204.2,377.73 L205.2,377.33 L206.2,376.95 L207.2,376.58 L208.2,376.22 L209.2,375.89 L210.2,375.58 L211.2,375.29 L212.2,375.04 L213.2,374.82 L214.2,374.65 L215.2,374.53 L216.2,374.46 L217.2,374.46 L218.2,374.51 L219.2,374.62 L220.2,374.75 L221.2,374.91 L222.2,375.09 L223.2,375.26 L224.2,375.44 L225.2,375.64 L226.2,375.84 L227.2,376.07 L228.2,376.32 L229.2,376.59 L230.2,376.90 L231.2,377.23 L232.2,377.60 L233.2,377.98 L234.2,378.37 L235.2,378.77 L236.2,379.17 L237.2,379.55 L238.2,379.93 L239.2,380.27 L240.2,380.59 L241.2,380.88 L242.2,381.14 L243.2,381.37 L244.2,381.58 L245.2,381.77 L246.2,381.95 L247.2,382.11 L248.2,382.25 L249.2,382.39 L250.2,382.52 L251.2,382.64 L252.2,382.77 L253.2,382.89 L254.2,383.02 L255.2,383.15 L256.2,383.29 L257.2,383.44 L258.2,383.61 L259.2,383.78 L260.2,383.97 L261.2,384.17 L262.2,384.38 L263.2,384.59 L264.2,384.82 L265.2,385.05 L266.2,385.29 L267.2,385.53 L268.2,385.78 L269.2,386.03 L270.2,386.29 L271.2,386.54 L272.2,386.80 L273.2,387.06 L274.2,387.32 L275.2,387.58 L276.2,387.83 L277.2,388.09 L278.2,388.34 L279.2,388.59 L280.2,388.84 L281.2,389.09 L282.2,389.34 L283.2,389.59 L284.2,389.83 L285.2,390.08 L286.2,390.32 L287.2,390.56 L288.2,390.80 L289.2,391.04 L290.2,391.28 L291.2,391.51 L292.2,391.75 L293.2,391.98 L294.2,392.22 L295.2,392.45 L296.2,392.67 L297.2,392.90 L298.2,393.12 L299.2,393.34 L300.2,393.55 L301.2,393.76 L302.2,393.96 L303.2,394.16 L304.2,394.35 L305.2,394.53 L306.2,394.71 L307.2,394.88 L308.2,395.05 L309.2,395.20 L310.2,395.35 L311.2,395.50 L312.2,395.64 L313.2,395.77 L314.2,395.89 L315.2,396.01 L316.2,396.13 L317.2,396.23 L318.2,396.33 L319.2,396.43 L320.2,396.52 L321.2,396.60 L322.2,396.68 L323.2,396.75 L324.2,396.82 L325.2,396.88 L326.2,396.93 L327.2,396.97 L328.2,397.00 L329.2,397.03 L330.2,397.05 L331.2,397.06 L332.2,397.05 L333.2,397.04 L334.2,397.02 L335.2,396.99 L336.2,396.95 L337.2,396.90 L338.2,396.83 L339.2,396.76 L340.2,396.68 L341.2,396.59 L342.2,396.49 L343.2,396.39 L344.2,396.28 L345.2,396.16 L346.2,396.03 L347.2,395.90 L348.2,395.76 L349.2,395.62 L350.2,395.47 L351.2,395.32 L352.2,395.16 L353.2,395.00 L354.2,394.84 L355.2,394.67 L356.2,394.50 L357.2,394.33 L358.2,394.16 L359.2,393.98 L360.2,393.80 L361.2,393.62 L362.2,393.45 L363.2,393.27 L364.2,393.09 L365.2,392.91 L366.2,392.73 L367.2,392.55 L368.2,392.38 L369.2,392.20 L370.2,392.03 L371.2,391.86 L372.2,391.70 L373.2,391.54 L374.2,391.38 L375.2,391.23 L376.2,391.08 L377.2,390.95 L378.2,390.82 L379.2,390.69 L380.2,390.58 L381.2,390.48 L382.2,390.38 L383.2,390.29 L384.2,390.21 L385.2,390.14 L386.2,390.07 L387.2,390.01 L388.2,389.95 L389.2,389.90 L390.2,389.85 L391.2,389.81 L392.2,389.77 L393.2,389.73 L394.2,389.69 L395.2,389.66 L396.2,389.62 L397.2,389.59 L398.2,389.56 L399.2,389.53 L400.2,389.49 L401.2,389.45 L402.2,389.42 L403.2,389.38 L404.2,389.34 L405.2,389.30 L406.2,389.26 L407.2,389.22 L408.2,389.18 L409.2,389.14 L410.2,389.10 L411.2,389.06 L412.2,389.03 L413.2,388.99 L414.2,388.96 L415.2,388.93 L416.2,388.90 L417.2,388.87 L418.2,388.84 L419.2,388.82 L420.2,388.80 L421.2,388.78 L422.2,388.77 L423.2,388.75 L424.2,388.74 L425.2,388.74 L426.2,388.73 L427.2,388.73 L428.2,388.73 L429.2,388.73 L430.2,388.73 L431.2,388.74 L432.2,388.74 L433.2,388.75 L434.2,388.76 L435.2,388.76 L436.2,388.77 L437.2,388.78 L438.2,388.79 L439.0,388.80" fill="none" stroke="#c42b48" stroke-width="1.40" stroke-linejoin="round" stroke-linecap="round"/>
<path d="M64.2,392.60 L65.2,392.59 L66.2,392.58 L67.2,392.57 L68.2,392.56 L69.2,392.55 L70.2,392.54 L71.2,392.53 L72.2,392.52 L73.2,392.50 L74.2,392.49 L75.2,392.48 L76.2,392.47 L77.2,392.46 L78.2,392.44 L79.2,392.43 L80.2,392.42 L81.2,392.40 L82.2,392.39 L83.2,392.37 L84.2,392.35 L85.2,392.34 L86.2,392.32 L87.2,392.30 L88.2,392.28 L89.2,392.26 L90.2,392.24 L91.2,392.22 L92.2,392.20 L93.2,392.18 L94.2,392.15 L95.2,392.13 L96.2,392.10 L97.2,392.08 L98.2,392.05 L99.2,392.02 L100.2,391.99 L101.2,391.96 L102.2,391.93 L103.2,391.89 L104.2,391.86 L105.2,391.82 L106.2,391.79 L107.2,391.75 L108.2,391.71 L109.2,391.67 L110.2,391.63 L111.2,391.59 L112.2,391.54 L113.2,391.50 L114.2,391.46 L115.2,391.41 L116.2,391.37 L117.2,391.32 L118.2,391.27 L119.2,391.23 L120.2,391.18 L121.2,391.13 L122.2,391.08 L123.2,391.03 L124.2,390.98 L125.2,390.93 L126.2,390.89 L127.2,390.84 L128.2,390.79 L129.2,390.74 L130.2,390.69 L131.2,390.64 L132.2,390.59 L133.2,390.54 L134.2,390.49 L135.2,390.44 L136.2,390.39 L137.2,390.34 L138.2,390.29 L139.2,390.24 L140.2,390.20 L141.2,390.15 L142.2,390.10 L143.2,390.05 L144.2,390.01 L145.2,389.96 L146.2,389.91 L147.2,389.87 L148.2,389.82 L149.2,389.78 L150.2,389.73 L151.2,389.68 L152.2,389.64 L153.2,389.59 L154.2,389.54 L155.2,389.50 L156.2,389.45 L157.2,389.40 L158.2,389.36 L159.2,389.31 L160.2,389.26 L161.2,389.21 L162.2,389.17 L163.2,389.12 L164.2,389.07 L165.2,389.02 L166.2,388.97 L167.2,388.92 L168.2,388.87 L169.2,388.82 L170.2,388.77 L171.2,388.72 L172.2,388.67 L173.2,388.62 L174.2,388.56 L175.2,388.51 L176.2,388.46 L177.2,388.41 L178.2,388.36 L179.2,388.31 L180.2,388.26 L181.2,388.20 L182.2,388.15 L183.2,388.10 L184.2,388.05 L185.2,388.00 L186.2,387.95 L187.2,387.90 L188.2,387.85 L189.2,387.79 L190.2,387.74 L191.2,387.69 L192.2,387.64 L193.2,387.59 L194.2,387.55 L195.2,387.50 L196.2,387.45 L197.2,387.40 L198.2,387.35 L199.2,387.30 L200.2,387.26 L201.2,387.21 L202.2,387.17 L203.2,387.12 L204.2,387.08 L205.2,387.04 L206.2,387.00 L207.2,386.96 L208.2,386.92 L209.2,386.88 L210.2,386.85 L211.2,386.81 L212.2,386.78 L213.2,386.75 L214.2,386.72 L215.2,386.69 L216.2,386.66 L217.2,386.64 L218.2,386.61 L219.2,386.59 L220.2,386.57 L221.2,386.56 L222.2,386.54 L223.2,386.53 L224.2,386.52 L225.2,386.51 L226.2,386.50 L227.2,386.50 L228.2,386.50 L229.2,386.50 L230.2,386.50 L231.2,386.51 L232.2,386.52 L233.2,386.53 L234.2,386.54 L235.2,386.56 L236.2,386.58 L237.2,386.60 L238.2,386.62 L239.2,386.65 L240.2,386.68 L241.2,386.71 L242.2,386.74 L243.2,386.77 L244.2,386.81 L245.2,386.84 L246.2,386.88 L247.2,386.92 L248.2,386.96 L249.2,387.01 L250.2,387.05 L251.2,387.10 L252.2,387.15 L253.2,387.20 L254.2,387.25 L255.2,387.30 L256.2,387.35 L257.2,387.41 L258.2,387.46 L259.2,387.52 L260.2,387.58 L261.2,387.64 L262.2,387.70 L263.2,387.76 L264.2,387.83 L265.2,387.90 L266.2,387.97 L267.2,388.05 L268.2,388.13 L269.2,388.21 L270.2,388.29 L271.2,388.38 L272.2,388.47 L273.2,388.57 L274.2,388.67 L275.2,388.78 L276.2,388.89 L277.2,389.01 L278.2,389.13 L279.2,389.25 L280.2,389.37 L281.2,389.50 L282.2,389.63 L283.2,389.76 L284.2,389.89 L285.2,390.02 L286.2,390.15 L287.2,390.28 L288.2,390.41 L289.2,390.54 L290.2,390.67 L291.2,390.79 L292.2,390.91 L293.2,391.03 L294.2,391.15 L295.2,391.26 L296.2,391.38 L297.2,391.49 L298.2,391.61 L299.2,391.73 L300.2,391.85 L301.2,391.98 L302.2,392.11 L303.2,392.25 L304.2,392.40 L305.2,392.55 L306.2,392.71 L307.2,392.88 L308.2,393.05 L309.2,393.23 L310.2,393.41 L311.2,393.59 L312.2,393.77 L313.2,393.94 L314.2,394.12 L315.2,394.29 L316.2,394.45 L317.2,394.60 L318.2,394.75 L319.2,394.88 L320.2,395.00 L321.2,395.11 L322.2,395.21 L323.2,395.29 L324.2,395.37 L325.2,395.43 L326.2,395.49 L327.2,395.54 L328.2,395.58 L329.2,395.62 L330.2,395.65 L331.2,395.68 L332.2,395.70 L333.2,395.71 L334.2,395.70 L335.2,395.67 L336.2,395.60 L337.2,395.51 L338.2,395.37 L339.2,395.20 L340.2,394.97 L341.2,394.70 L342.2,394.36 L343.2,393.97 L344.2,393.52 L345.2,393.03 L346.2,392.52 L347.2,391.99 L348.2,391.47 L349.2,390.96 L350.2,390.48 L351.2,390.04 L352.2,389.67 L353.2,389.37 L354.2,389.17 L355.2,389.08 L356.2,389.11 L357.2,389.24 L358.2,389.46 L359.2,389.75 L360.2,390.08 L361.2,390.44 L362.2,390.82 L363.2,391.19 L364.2,391.57 L365.2,391.95 L366.2,392.32 L367.2,392.68 L368.2,393.03 L369.2,393.35 L370.2,393.66 L371.2,393.94 L372.2,394.19 L373.2,394.42 L374.2,394.62 L375.2,394.80 L376.2,394.96 L377.2,395.10 L378.2,395.22 L379.2,395.32 L380.2,395.40 L381.2,395.47 L382.2,395.53 L383.2,395.58 L384.2,395.62 L385.2,395.65 L386.2,395.67 L387.2,395.69 L388.2,395.70 L389.2,395.71 L390.2,395.72 L391.2,395.73 L392.2,395.74 L393.2,395.75 L394.2,395.75 L395.2,395.75 L396.2,395.74 L397.2,395.73 L398.2,395.72 L399.2,395.70 L400.2,395.67 L401.2,395.63 L402.2,395.58 L403.2,395.53 L404.2,395.46 L405.2,395.38 L406.2,395.30 L407.2,395.20 L408.2,395.08 L409.2,394.96 L410.2,394.82 L411.2,394.66 L412.2,394.50 L413.2,394.32 L414.2,394.12 L415.2,393.91 L416.2,393.69 L417.2,393.45 L418.2,393.20 L419.2,392.94 L420.2,392.66 L421.2,392.37 L422.2,392.06 L423.2,391.73 L424.2,391.40 L425.2,391.04 L426.2,390.67 L427.2,390.29 L428.2,389.88 L429.2,389.46 L430.2,389.03 L431.2,388.57 L432.2,388.11 L433.2,387.62 L434.2,387.13 L435.2,386.62 L436.2,386.11 L437.2,385.59 L438.2,385.07 L439.2,384.54 L440.2,384.01 L441.2,383.48 L442.2,382.96 L443.2,382.43 L444.2,381.92 L445.2,381.41 L446.2,380.90 L447.2,380.40 L448.2,379.92 L449.2,379.44 L450.2,378.98 L451.2,378.53 L452.2,378.09 L453.2,377.67 L454.2,377.27 L455.2,376.89 L456.2,376.53 L457.2,376.19 L458.2,375.88 L459.2,375.59 L460.2,375.33 L461.2,375.10 L462.2,374.90 L463.2,374.73 L464.2,374.59 L465.2,374.47 L466.2,374.39 L467.2,374.33 L468.2,374.31 L469.2,374.31 L470.2,374.34 L471.2,374.40 L472.2,374.49 L473.2,374.61 L474.2,374.76 L475.2,374.95 L476.2,375.18 L477.2,375.45 L478.2,375.76 L479.2,376.12 L480.2,376.53 L481.2,376.98 L482.2,377.49 L483.2,378.03 L484.2,378.61 L485.2,379.21 L486.2,379.83 L487.2,380.46 L488.2,381.09 L489.2,381.71 L490.2,382.31 L491.2,382.89 L492.2,383.43 L493.2,383.94 L494.2,384.42 L495.2,384.86 L496.2,385.27 L497.2,385.65 L498.2,386.00 L499.2,386.32 L500.2,386.61 L501.2,386.87 L502.2,387.09 L503.2,387.29 L504.2,387.46 L505.2,387.61 L506.2,387.73 L507.2,387.83 L508.2,387.90 L509.2,387.96 L510.2,388.00 L511.2,388.03 L512.2,388.04 L513.2,388.04 L514.2,388.03 L515.2,388.01 L516.2,387.99 L517.2,387.96 L518.2,387.93 L519.2,387.90 L520.2,387.88 L521.2,387.86 L522.2,387.85 L523.2,387.84 L524.2,387.85 L525.2,387.87 L526.2,387.91 L527.2,387.95 L528.2,387.99 L529.2,388.03 L530.2,388.06 L531.2,388.06 L532.2,388.04 L533.2,387.99 L534.2,387.90 L535.2,387.77 L536.2,387.58 L537.2,387.34 L538.2,387.04 L539.2,386.69 L540.2,386.30 L541.2,385.87 L542.2,385.42 L543.2,384.94 L544.2,384.45 L545.2,383.95 L546.2,383.44 L547.2,382.94 L548.2,382.43 L549.2,381.92 L550.2,381.42 L551.2,380.91 L552.2,380.41 L553.2,379.91 L554.2,379.42 L555.2,378.93 L556.2,378.44 L557.2,377.96 L558.2,377.49 L559.2,377.03 L560.2,376.57 L561.2,376.13 L562.2,375.69 L563.2,375.26 L564.2,374.84 L565.2,374.43 L566.2,374.03 L567.2,373.64 L568.2,373.26 L569.2,372.89 L570.2,372.53 L571.2,372.18 L572.2,371.84 L573.2,371.51 L574.2,371.19 L575.2,370.88 L576.2,370.58 L577.2,370.28 L578.2,370.00 L579.2,369.72 L580.2,369.45 L581.2,369.18 L582.2,368.91 L583.2,368.65 L584.2,368.39 L585.2,368.13 L585.7,368.00" fill="none" stroke="#f1a11b" stroke-width="1.40" stroke-linejoin="round" stroke-linecap="round"/>
<path d="M64.2,368.00 L65.2,368.05 L66.2,368.10 L67.2,368.15 L68.2,368.20 L69.2,368.25 L70.2,368.30 L71.2,368.35 L72.2,368.40 L73.2,368.45 L74.2,368.50 L75.2,368.55 L76.2,368.60 L77.2,368.65 L78.2,368.70 L79.2,368.75 L80.2,368.80 L81.2,368.85 L82.2,368.90 L83.2,368.95 L84.2,369.00 L85.2,369.06 L86.2,369.11 L87.2,369.16 L88.2,369.21 L89.2,369.27 L90.2,369.32 L91.2,369.37 L92.2,369.43 L93.2,369.48 L94.2,369.54 L95.2,369.59 L96.2,369.64 L97.2,369.69 L98.2,369.75 L99.2,369.80 L100.2,369.84 L101.2,369.89 L102.2,369.93 L103.2,369.97 L104.2,370.01 L105.2,370.05 L106.2,370.08 L107.2,370.11 L108.2,370.13 L109.2,370.15 L110.2,370.17 L111.2,370.18 L112.2,370.19 L113.2,370.19 L114.2,370.18 L115.2,370.17 L116.2,370.16 L117.2,370.13 L118.2,370.10 L119.2,370.07 L120.2,370.02 L121.2,369.97 L122.2,369.91 L123.2,369.84 L124.2,369.75 L125.2,369.65 L126.2,369.53 L127.2,369.39 L128.2,369.23 L129.2,369.05 L130.2,368.84 L131.2,368.60 L132.2,368.34 L133.2,368.05 L134.2,367.72 L135.2,367.35 L136.2,366.95 L137.2,366.51 L138.2,366.03 L139.2,365.51 L140.2,364.95 L141.2,364.36 L142.2,363.75 L143.2,363.12 L144.2,362.48 L145.2,361.83 L146.2,361.19 L147.2,360.56 L148.2,359.93 L149.2,359.30 L150.2,358.68 L151.2,358.05 L152.2,357.43 L153.2,356.81 L154.2,356.18 L155.2,355.56 L156.2,354.94 L157.2,354.32 L158.2,353.72 L159.2,353.14 L160.2,352.57 L161.2,352.03 L162.2,351.51 L163.2,351.03 L164.2,350.58 L165.2,350.15 L166.2,349.76 L167.2,349.40 L168.2,349.08 L169.2,348.78 L170.2,348.52 L171.2,348.30 L172.2,348.10 L173.2,347.94 L174.2,347.81 L175.2,347.71 L176.2,347.64 L177.2,347.59 L178.2,347.58 L179.2,347.59 L180.2,347.63 L181.2,347.69 L182.2,347.78 L183.2,347.89 L184.2,348.03 L185.2,348.19 L186.2,348.38 L187.2,348.59 L188.2,348.82 L189.2,349.08 L190.2,349.36 L191.2,349.67 L192.2,349.99 L193.2,350.34 L194.2,350.72 L195.2,351.11 L196.2,351.53 L197.2,351.97 L198.2,352.43 L199.2,352.91 L200.2,353.41 L201.2,353.93 L202.2,354.47 L203.2,355.04 L204.2,355.63 L205.2,356.25 L206.2,356.90 L207.2,357.59 L208.2,358.32 L209.2,359.09 L210.2,359.91 L211.2,360.75 L212.2,361.62 L213.2,362.51 L214.2,363.40 L215.2,364.28 L216.2,365.15 L217.2,365.99 L218.2,366.81 L219.2,367.61 L220.2,368.39 L221.2,369.17 L222.2,369.96 L223.2,370.75 L224.2,371.54 L225.2,372.32 L226.2,373.09 L227.2,373.84 L228.2,374.56 L229.2,375.24 L230.2,375.87 L231.2,376.45 L232.2,376.98 L233.2,377.46 L234.2,377.90 L235.2,378.29 L236.2,378.64 L237.2,378.96 L238.2,379.25 L239.2,379.52 L240.2,379.76 L241.2,379.98 L242.2,380.18 L243.2,380.36 L244.2,380.51 L245.2,380.65 L246.2,380.76 L247.2,380.84 L248.2,380.90 L249.2,380.94 L250.2,380.96 L251.2,380.96 L252.2,380.95 L253.2,380.94 L254.2,380.92 L255.2,380.90 L256.2,380.89 L257.2,380.88 L258.2,380.89 L259.2,380.92 L260.2,380.96 L261.2,381.01 L262.2,381.08 L263.2,381.16 L264.2,381.26 L265.2,381.37 L266.2,381.50 L267.2,381.64 L268.2,381.80 L269.2,381.96 L270.2,382.14 L271.2,382.33 L272.2,382.53 L273.2,382.74 L274.2,382.95 L275.2,383.16 L276.2,383.38 L277.2,383.60 L278.2,383.82 L279.2,384.03 L280.2,384.24 L281.2,384.44 L282.2,384.64 L283.2,384.83 L284.2,385.00 L285.2,385.16 L286.2,385.32 L287.2,385.47 L288.2,385.61 L289.2,385.76 L290.2,385.90 L291.2,386.04 L292.2,386.19 L293.2,386.34 L294.2,386.49 L295.2,386.64 L296.2,386.80 L297.2,386.96 L298.2,387.11 L299.2,387.27 L300.2,387.42 L301.2,387.57 L302.2,387.71 L303.2,387.85 L304.2,387.98 L305.2,388.10 L306.2,388.22 L307.2,388.32 L308.2,388.42 L309.2,388.51 L310.2,388.59 L311.2,388.67 L312.2,388.73 L313.2,388.79 L314.2,388.84 L315.2,388.88 L316.2,388.92 L317.2,388.95 L318.2,388.97 L319.2,388.98 L320.2,388.99 L321.2,388.99 L322.2,388.98 L323.2,388.97 L324.2,388.96 L325.2,388.94 L326.2,388.91 L327.2,388.89 L328.2,388.86 L329.2,388.84 L330.2,388.81 L331.2,388.78 L332.2,388.76 L333.2,388.73 L334.2,388.71 L335.2,388.68 L336.2,388.66 L337.2,388.64 L338.2,388.62 L339.2,388.60 L340.2,388.58 L341.2,388.57 L342.2,388.55 L343.2,388.54 L344.2,388.53 L345.2,388.51 L346.2,388.51 L347.2,388.50 L348.2,388.49 L349.2,388.49 L350.2,388.49 L351.2,388.49 L352.2,388.49 L353.2,388.49 L354.2,388.50 L355.2,388.51 L356.2,388.52 L357.2,388.53 L358.2,388.54 L359.2,388.56 L360.2,388.58 L361.2,388.60 L362.2,388.62 L363.2,388.64 L364.2,388.66 L365.2,388.68 L366.2,388.71 L367.2,388.73 L368.2,388.75 L369.2,388.78 L370.2,388.80 L371.2,388.83 L372.2,388.85 L373.2,388.87 L374.2,388.89 L375.2,388.91 L376.2,388.93 L377.2,388.95 L378.2,388.97 L379.2,388.99 L380.2,389.00 L381.2,389.01 L382.2,389.02 L383.2,389.03 L384.2,389.03 L385.2,389.04 L386.2,389.04 L387.2,389.04 L388.2,389.04 L389.2,389.04 L390.2,389.03 L391.2,389.03 L392.2,389.02 L393.2,389.01 L394.2,389.00 L395.2,388.99 L396.2,388.97 L397.2,388.96 L398.2,388.94 L399.2,388.92 L400.2,388.90 L401.2,388.88 L402.2,388.86 L403.2,388.84 L404.2,388.81 L405.2,388.79 L406.2,388.76 L407.2,388.73 L408.2,388.71 L409.2,388.68 L410.2,388.65 L411.2,388.63 L412.2,388.60 L413.2,388.58 L414.2,388.56 L415.2,388.54 L416.2,388.52 L417.2,388.51 L418.2,388.51 L419.2,388.50 L420.2,388.50 L421.2,388.51 L422.2,388.52 L423.2,388.54 L424.2,388.56 L425.2,388.59 L426.2,388.62 L427.2,388.67 L428.2,388.72 L429.2,388.77 L430.2,388.84 L431.2,388.91 L432.2,388.99 L433.2,389.08 L434.2,389.18 L435.2,389.29 L436.2,389.41 L437.2,389.54 L438.2,389.68 L439.2,389.82 L440.2,389.98 L441.2,390.14 L442.2,390.30 L443.2,390.47 L444.2,390.65 L445.2,390.82 L446.2,391.00 L447.2,391.18 L448.2,391.36 L449.2,391.54 L450.2,391.72 L451.2,391.90 L452.2,392.08 L453.2,392.26 L454.2,392.44 L455.2,392.63 L456.2,392.81 L457.2,393.00 L458.2,393.20 L459.2,393.39 L460.2,393.59 L461.2,393.80 L462.2,394.01 L463.2,394.23 L464.2,394.46 L465.2,394.68 L466.2,394.91 L467.2,395.15 L468.2,395.38 L469.2,395.62 L470.2,395.86 L471.2,396.11 L472.0,396.30" fill="none" stroke="#8e1313" stroke-width="1.40" stroke-linejoin="round" stroke-linecap="round"/>
<path d="M64.2,375.00 L65.2,374.90 L66.2,374.81 L67.2,374.71 L68.2,374.62 L69.2,374.52 L70.2,374.42 L71.2,374.33 L72.2,374.23 L73.2,374.14 L74.2,374.04 L75.2,373.95 L76.2,373.86 L77.2,373.76 L78.2,373.67 L79.2,373.58 L80.2,373.49 L81.2,373.40 L82.2,373.31 L83.2,373.22 L84.2,373.13 L85.2,373.05 L86.2,372.96 L87.2,372.88 L88.2,372.79 L89.2,372.71 L90.2,372.63 L91.2,372.55 L92.2,372.47 L93.2,372.39 L94.2,372.31 L95.2,372.24 L96.2,372.17 L97.2,372.09 L98.2,372.02 L99.2,371.95 L100.2,371.88 L101.2,371.81 L102.2,371.75 L103.2,371.68 L104.2,371.62 L105.2,371.56 L106.2,371.50 L107.2,371.44 L108.2,371.38 L109.2,371.32 L110.2,371.27 L111.2,371.22 L112.2,371.16 L113.2,371.11 L114.2,371.07 L115.2,371.02 L116.2,370.97 L117.2,370.93 L118.2,370.89 L119.2,370.84 L120.2,370.80 L121.2,370.77 L122.2,370.73 L123.2,370.69 L124.2,370.66 L125.2,370.62 L126.2,370.59 L127.2,370.55 L128.2,370.51 L129.2,370.47 L130.2,370.43 L131.2,370.38 L132.2,370.33 L133.2,370.28 L134.2,370.23 L135.2,370.17 L136.2,370.10 L137.2,370.03 L138.2,369.96 L139.2,369.88 L140.2,369.79 L141.2,369.70 L142.2,369.61 L143.2,369.51 L144.2,369.41 L145.2,369.31 L146.2,369.20 L147.2,369.09 L148.2,368.98 L149.2,368.87 L150.2,368.76 L151.2,368.65 L152.2,368.54 L153.2,368.43 L154.2,368.32 L155.2,368.21 L156.2,368.11 L157.2,368.01 L158.2,367.91 L159.2,367.82 L160.2,367.73 L161.2,367.64 L162.2,367.56 L163.2,367.48 L164.2,367.41 L165.2,367.35 L166.2,367.29 L167.2,367.23 L168.2,367.18 L169.2,367.14 L170.2,367.10 L171.2,367.07 L172.2,367.04 L173.2,367.01 L174.2,366.99 L175.2,366.98 L176.2,366.97 L177.2,366.97 L178.2,366.97 L179.2,366.97 L180.2,366.98 L181.2,367.00 L182.2,367.02 L183.2,367.04 L184.2,367.07 L185.2,367.11 L186.2,367.15 L187.2,367.19 L188.2,367.24 L189.2,367.29 L190.2,367.35 L191.2,367.41 L192.2,367.47 L193.2,367.53 L194.2,367.60 L195.2,367.66 L196.2,367.73 L197.2,367.80 L198.2,367.87 L199.2,367.94 L200.2,368.01 L201.2,368.09 L202.2,368.16 L203.2,368.23 L204.2,368.30 L205.2,368.37 L206.2,368.45 L207.2,368.53 L208.2,368.61 L209.2,368.69 L210.2,368.78 L211.2,368.88 L212.2,368.98 L213.2,369.09 L214.2,369.20 L215.2,369.33 L216.2,369.45 L217.2,369.59 L218.2,369.72 L219.2,369.87 L220.2,370.01 L221.2,370.16 L222.2,370.30 L223.2,370.45 L224.2,370.60 L225.2,370.75 L226.2,370.90 L227.2,371.04 L228.2,371.19 L229.2,371.34 L230.2,371.49 L231.2,371.64 L232.2,371.79 L233.2,371.94 L234.2,372.09 L235.2,372.25 L236.2,372.40 L237.2,372.55 L238.2,372.70 L239.2,372.85 L240.2,373.01 L241.2,373.16 L242.2,373.31 L243.2,373.47 L244.2,373.62 L245.2,373.78 L246.2,373.93 L247.2,374.09 L248.2,374.24 L249.2,374.40 L250.2,374.55 L251.2,374.70 L252.2,374.86 L253.2,375.01 L254.2,375.17 L255.2,375.32 L256.2,375.48 L257.2,375.63 L258.2,375.79 L259.2,375.94 L260.2,376.10 L261.2,376.25 L262.2,376.40 L263.2,376.55 L264.2,376.70 L265.2,376.85 L266.2,377.00 L267.2,377.15 L268.2,377.30 L269.2,377.44 L270.2,377.59 L271.2,377.73 L272.2,377.87 L273.2,378.01 L274.2,378.15 L275.2,378.29 L276.2,378.42 L277.2,378.55 L278.2,378.69 L279.2,378.82 L280.2,378.94 L281.2,379.07 L282.2,379.20 L283.2,379.33 L284.2,379.45 L285.2,379.58 L286.2,379.70 L287.2,379.83 L288.2,379.95 L289.2,380.08 L290.2,380.20 L291.2,380.33 L292.2,380.45 L293.2,380.58 L294.2,380.71 L295.2,380.83 L296.2,380.96 L297.2,381.08 L298.2,381.20 L299.2,381.31 L300.2,381.42 L301.2,381.53 L302.2,381.63 L303.2,381.72 L304.2,381.80 L305.2,381.88 L306.2,381.94 L307.2,382.00 L308.2,382.05 L309.2,382.09 L310.2,382.13 L311.2,382.16 L312.2,382.18 L313.2,382.20 L314.2,382.22 L315.2,382.22 L316.2,382.23 L317.2,382.23 L318.2,382.23 L319.2,382.23 L320.2,382.22 L321.2,382.21 L322.2,382.20 L323.2,382.19 L324.2,382.18 L325.2,382.16 L326.2,382.15 L327.2,382.13 L328.2,382.10 L329.2,382.07 L330.2,382.04 L331.2,382.01 L332.2,381.97 L333.2,381.93 L334.2,381.88 L335.2,381.83 L336.2,381.77 L337.2,381.71 L338.2,381.64 L339.2,381.57 L340.2,381.49 L341.2,381.41 L342.2,381.32 L343.2,381.22 L344.2,381.12 L345.2,381.02 L346.2,380.91 L347.2,380.80 L348.2,380.68 L349.2,380.56 L350.2,380.43 L351.2,380.30 L352.2,380.17 L353.2,380.04 L354.2,379.90 L355.2,379.77 L356.2,379.63 L357.2,379.49 L358.2,379.34 L359.2,379.20 L360.2,379.06 L361.2,378.91 L362.2,378.77 L363.2,378.63 L364.2,378.49 L365.2,378.34 L366.2,378.20 L367.2,378.06 L368.2,377.93 L369.2,377.79 L370.2,377.66 L371.2,377.53 L372.2,377.40 L373.2,377.28 L374.2,377.16 L375.2,377.04 L376.2,376.92 L377.2,376.82 L378.2,376.71 L379.2,376.61 L380.2,376.51 L381.2,376.43 L382.2,376.34 L383.2,376.26 L384.2,376.19 L385.2,376.12 L386.2,376.06 L387.2,376.01 L388.2,375.97 L389.2,375.93 L390.2,375.90 L391.2,375.88 L392.2,375.86 L393.2,375.85 L394.2,375.85 L395.2,375.85 L396.2,375.86 L397.2,375.88 L398.2,375.90 L399.2,375.93 L400.2,375.95 L401.2,375.99 L402.2,376.02 L403.2,376.06 L404.2,376.11 L405.2,376.15 L406.2,376.20 L407.2,376.25 L408.2,376.30 L409.2,376.35 L410.2,376.40 L411.2,376.46 L412.2,376.51 L413.2,376.56 L414.2,376.61 L415.2,376.66 L416.2,376.71 L417.2,376.76 L418.2,376.80 L419.2,376.84 L420.2,376.88 L421.2,376.91 L422.2,376.94 L423.2,376.97 L424.2,376.98 L425.2,377.00 L426.2,377.00 L427.2,377.00 L428.2,376.99 L429.2,376.98 L430.2,376.95 L431.2,376.92 L432.2,376.88 L433.2,376.83 L434.2,376.78 L435.2,376.71 L436.2,376.63 L437.2,376.55 L438.2,376.45 L439.2,376.35 L440.2,376.23 L441.2,376.10 L442.2,375.96 L443.2,375.81 L444.2,375.64 L445.2,375.46 L446.2,375.28 L447.2,375.07 L448.2,374.86 L449.2,374.63 L450.2,374.38 L451.2,374.12 L452.2,373.85 L453.2,373.56 L454.2,373.26 L455.2,372.94 L456.2,372.60 L457.2,372.24 L458.2,371.87 L459.2,371.49 L460.2,371.08 L461.2,370.66 L462.2,370.21 L463.2,369.75 L464.2,369.27 L465.2,368.77 L466.2,368.25 L467.2,367.71 L468.2,367.16 L469.2,366.61 L470.2,366.05 L471.2,365.49 L472.2,364.94 L473.2,364.40 L474.2,363.86 L475.2,363.34 L476.2,362.83 L477.2,362.34 L478.2,361.87 L479.2,361.42 L480.2,361.00 L481.2,360.60 L482.2,360.23 L483.2,359.89 L484.2,359.57 L485.2,359.28 L486.2,359.02 L487.2,358.78 L488.2,358.57 L489.2,358.38 L490.2,358.22 L491.2,358.08 L492.2,357.97 L493.2,357.88 L494.2,357.82 L495.2,357.78 L496.2,357.76 L497.2,357.76 L498.2,357.79 L499.2,357.84 L500.2,357.92 L501.2,358.02 L502.2,358.13 L503.2,358.28 L504.2,358.45 L505.2,358.64 L506.2,358.87 L507.2,359.14 L508.2,359.43 L509.2,359.76 L510.2,360.12 L511.2,360.51 L512.2,360.92 L513.2,361.34 L514.2,361.79 L515.2,362.25 L516.2,362.72 L517.2,363.20 L518.2,363.68 L519.2,364.17 L520.2,364.66 L521.2,365.15 L522.2,365.64 L523.2,366.12 L524.2,366.60 L525.2,367.07 L526.2,367.54 L527.2,368.00 L528.2,368.46 L529.2,368.91 L530.2,369.35 L531.2,369.78 L532.2,370.22 L533.2,370.65 L534.2,371.07 L534.5,371.20 L535.5,371.01 L536.5,370.82 L537.5,370.63 L538.5,370.45 L539.5,370.26 L540.5,370.07 L541.5,369.88 L542.5,369.68 L543.5,369.49 L544.5,369.30 L545.5,369.12 L546.5,368.93 L547.5,368.75 L548.5,368.58 L549.5,368.41 L550.5,368.24 L551.5,368.08 L552.5,367.94 L553.5,367.79 L554.5,367.66 L555.5,367.53 L556.5,367.41 L557.5,367.30 L558.5,367.20 L559.5,367.10 L560.5,367.00 L561.5,366.92 L562.5,366.84 L563.5,366.76 L564.5,366.69 L565.5,366.63 L566.5,366.57 L567.5,366.51 L568.5,366.46 L569.5,366.42 L570.5,366.38 L571.5,366.34 L572.5,366.31 L573.5,366.28 L574.5,366.25 L575.5,366.23 L576.5,366.21 L577.5,366.19 L578.5,366.18 L579.5,366.16 L580.5,366.15 L581.5,366.14 L582.5,366.13 L583.5,366.12 L584.5,366.11 L585.5,366.10 L585.7,366.10" fill="none" stroke="#cc3651" stroke-width="1.40" stroke-linejoin="round" stroke-linecap="round"/>
<path d="M63.1,353.00 L64.1,352.78 L65.1,352.57 L66.1,352.35 L67.1,352.14 L68.1,351.93 L69.1,351.71 L70.1,351.50 L71.1,351.30 L72.1,351.09 L73.1,350.89 L74.1,350.69 L75.1,350.49 L76.1,350.29 L77.1,350.10 L78.1,349.91 L79.1,349.73 L80.1,349.55 L81.1,349.36 L82.1,349.19 L83.1,349.01 L84.1,348.83 L85.1,348.66 L86.1,348.49 L87.1,348.32 L88.1,348.15 L89.1,347.98 L90.1,347.81 L91.1,347.64 L92.1,347.47 L93.1,347.30 L94.1,347.13 L95.1,346.96 L96.1,346.79 L97.1,346.62 L98.1,346.44 L99.1,346.27 L100.1,346.10 L101.1,345.93 L102.1,345.77 L103.1,345.60 L104.1,345.44 L105.1,345.28 L106.1,345.12 L107.1,344.97 L108.1,344.83 L109.1,344.68 L110.1,344.55 L111.1,344.42 L112.1,344.29 L113.1,344.18 L114.1,344.07 L115.1,343.97 L116.1,343.88 L117.1,343.79 L118.1,343.72 L119.1,343.65 L120.1,343.59 L121.1,343.54 L122.1,343.49 L123.1,343.45 L124.1,343.42 L125.1,343.39 L126.1,343.36 L127.1,343.34 L128.1,343.33 L129.1,343.31 L130.1,343.30 L131.1,343.30 L132.1,343.29 L133.1,343.29 L134.1,343.29 L135.1,343.29 L136.1,343.29 L137.1,343.30 L138.1,343.30 L139.1,343.31 L140.1,343.31 L141.1,343.32 L142.1,343.33 L143.1,343.34 L144.1,343.35 L145.1,343.37 L146.1,343.38 L147.1,343.40 L148.1,343.42 L149.1,343.44 L150.1,343.46 L151.1,343.49 L152.1,343.51 L153.1,343.54 L154.1,343.58 L155.1,343.61 L156.1,343.65 L157.1,343.69 L158.1,343.73 L159.1,343.78 L160.1,343.83 L161.1,343.88 L162.1,343.94 L163.1,343.99 L164.1,344.06 L165.1,344.12 L166.1,344.19 L167.1,344.26 L168.1,344.33 L169.1,344.41 L170.1,344.49 L171.1,344.57 L172.1,344.65 L173.1,344.74 L174.1,344.83 L175.1,344.92 L176.1,345.02 L177.1,345.12 L178.1,345.22 L179.1,345.32 L180.1,345.42 L181.1,345.53 L182.1,345.64 L183.1,345.75 L184.1,345.86 L185.1,345.98 L186.1,346.09 L187.1,346.21 L188.1,346.34 L189.1,346.46 L190.1,346.60 L191.1,346.73 L192.1,346.87 L193.1,347.02 L194.1,347.18 L195.1,347.34 L196.1,347.52 L197.1,347.70 L198.1,347.89 L199.1,348.09 L200.1,348.31 L201.1,348.53 L202.1,348.77 L203.1,349.02 L204.1,349.28 L205.1,349.56 L206.1,349.85 L207.1,350.15 L208.1,350.47 L209.1,350.80 L210.1,351.14 L211.1,351.50 L212.1,351.87 L213.1,352.26 L214.1,352.66 L215.1,353.08 L216.1,353.50 L217.1,353.93 L218.1,354.36 L219.1,354.78 L220.1,355.21 L221.1,355.62 L222.1,356.02 L223.1,356.40 L224.1,356.76 L225.1,357.10 L226.1,357.41 L227.1,357.69 L228.1,357.95 L229.1,358.19 L230.1,358.40 L231.1,358.60 L232.1,358.77 L233.1,358.92 L234.1,359.05 L235.1,359.17 L236.1,359.26 L237.1,359.34 L238.1,359.41 L239.1,359.45 L240.1,359.49 L241.1,359.51 L242.1,359.52 L243.1,359.51 L244.1,359.50 L245.1,359.47 L246.1,359.43 L247.1,359.39 L248.1,359.33 L249.1,359.27 L250.1,359.20 L251.1,359.12 L252.1,359.04 L253.1,358.95 L254.1,358.85 L255.1,358.75 L256.1,358.65 L257.1,358.54 L258.1,358.43 L259.1,358.32 L260.1,358.20 L261.1,358.08 L262.1,357.96 L263.1,357.84 L264.1,357.71 L265.1,357.58 L266.1,357.45 L267.1,357.32 L268.1,357.19 L269.1,357.05 L270.1,356.91 L271.1,356.77 L272.1,356.63 L273.1,356.49 L274.1,356.34 L275.1,356.20 L276.1,356.05 L277.1,355.90 L278.1,355.75 L279.1,355.60 L280.1,355.45 L281.1,355.29 L282.1,355.14 L283.1,354.99 L284.1,354.83 L285.1,354.67 L286.1,354.51 L287.1,354.36 L288.1,354.20 L289.1,354.04 L290.1,353.88 L291.1,353.72 L292.1,353.55 L293.1,353.39 L294.1,353.24 L295.1,353.08 L296.1,352.92 L297.1,352.77 L298.1,352.61 L299.1,352.46 L300.1,352.31 L301.1,352.17 L302.1,352.03 L303.1,351.89 L304.1,351.75 L305.1,351.62 L306.1,351.49 L307.1,351.38 L308.1,351.27 L309.1,351.17 L310.1,351.09 L311.1,351.02 L312.1,350.97 L313.1,350.94 L314.1,350.93 L315.1,350.94 L316.1,350.98 L317.1,351.04 L318.1,351.13 L319.1,351.25 L320.1,351.40 L321.1,351.58 L322.1,351.80 L323.1,352.05 L324.1,352.35 L325.1,352.68 L326.1,353.06 L327.1,353.48 L328.1,353.94 L329.1,354.44 L330.1,354.97 L331.1,355.54 L332.1,356.14 L333.1,356.78 L334.1,357.44 L335.1,358.12 L336.1,358.81 L337.1,359.51 L338.1,360.21 L339.1,360.90 L340.1,361.57 L341.1,362.23 L342.1,362.87 L343.1,363.51 L344.1,364.14 L345.1,364.78 L346.1,365.43 L347.1,366.10 L348.1,366.78 L349.1,367.48 L350.1,368.19 L351.1,368.93 L352.1,369.67 L353.1,370.44 L354.1,371.22 L355.1,372.00 L356.1,372.77 L357.1,373.54 L358.1,374.29 L359.1,375.01 L360.1,375.71 L361.1,376.37 L362.1,376.99 L363.1,377.57 L364.1,378.11 L365.1,378.59 L366.1,379.03 L367.1,379.42 L368.1,379.77 L369.1,380.09 L370.1,380.38 L371.1,380.65 L372.1,380.91 L373.1,381.16 L373.7,381.30 L374.7,381.05 L375.7,380.79 L376.7,380.52 L377.7,380.25 L378.7,379.95 L379.7,379.64 L380.7,379.31 L381.7,378.96 L382.7,378.58 L383.7,378.21 L384.7,377.84 L385.7,377.49 L386.7,377.16 L387.7,376.88 L388.7,376.64 L389.7,376.46 L390.7,376.32 L391.7,376.22 L392.7,376.16 L393.7,376.14 L394.7,376.15 L395.7,376.18 L396.7,376.24 L397.7,376.31 L398.7,376.40 L399.7,376.51 L400.7,376.62 L401.7,376.74 L402.7,376.87 L403.7,377.00 L404.7,377.14 L405.7,377.27 L406.7,377.41 L407.7,377.55 L408.7,377.69 L409.7,377.84 L410.7,377.98 L411.7,378.12 L412.7,378.26 L413.7,378.39 L414.7,378.53 L415.7,378.66 L416.7,378.79 L417.7,378.91 L418.7,379.04 L419.7,379.18 L420.7,379.31 L421.7,379.45 L422.7,379.60 L423.7,379.75 L424.7,379.91 L425.7,380.08 L426.7,380.26 L427.7,380.46 L428.7,380.66 L429.7,380.88 L430.7,381.12 L431.7,381.37 L432.7,381.63 L433.7,381.90 L434.7,382.18 L435.7,382.47 L436.7,382.75 L437.7,383.04 L438.7,383.33 L439.7,383.61 L440.7,383.89 L441.7,384.15 L442.7,384.41 L443.7,384.66 L444.7,384.88 L445.7,385.10 L446.7,385.29 L447.7,385.47 L448.7,385.63 L449.7,385.78 L450.7,385.91 L451.7,386.04 L452.7,386.15 L453.7,386.25 L454.7,386.34 L455.7,386.43 L456.7,386.50 L457.7,386.57 L458.7,386.64 L459.7,386.70 L460.7,386.77 L461.7,386.82 L462.7,386.88 L463.7,386.94 L464.7,387.00 L465.7,387.06 L466.7,387.13 L467.7,387.20 L468.7,387.27 L469.7,387.34 L470.7,387.41 L471.7,387.49 L472.7,387.56 L473.7,387.64 L474.7,387.72 L475.7,387.80 L476.7,387.88 L477.7,387.95 L478.7,388.03 L479.7,388.11 L480.7,388.18 L481.7,388.26 L482.7,388.33 L483.7,388.40 L484.7,388.47 L485.7,388.54 L486.7,388.61 L487.7,388.67 L488.7,388.73 L489.7,388.79 L490.7,388.85 L491.7,388.90 L492.7,388.95 L493.7,389.01 L494.7,389.06 L495.7,389.11 L496.7,389.15 L497.7,389.20 L498.7,389.24 L499.7,389.29 L500.7,389.33 L501.7,389.38 L502.7,389.42 L503.7,389.46 L504.7,389.50 L505.7,389.54 L506.7,389.58 L507.7,389.62 L508.7,389.65 L509.7,389.69 L510.7,389.71 L511.7,389.74 L512.7,389.76 L513.7,389.78 L514.7,389.78 L515.7,389.79 L516.7,389.78 L517.7,389.77 L518.7,389.76 L519.7,389.74 L520.7,389.71 L521.7,389.68 L522.7,389.65 L523.7,389.61 L524.7,389.57 L525.7,389.53 L526.7,389.49 L527.7,389.44 L528.7,389.39 L529.7,389.34 L530.7,389.30 L531.7,389.25 L532.7,389.20 L533.7,389.15 L534.7,389.10 L535.7,389.05 L536.7,389.01 L537.7,388.96 L538.7,388.92 L539.7,388.88 L540.7,388.84 L541.7,388.81 L542.7,388.77 L543.7,388.73 L544.7,388.69 L545.7,388.66 L546.7,388.62 L547.7,388.58 L548.7,388.54 L549.7,388.49 L550.7,388.45 L551.7,388.40 L552.7,388.35 L553.7,388.30 L554.7,388.24 L555.7,388.18 L556.7,388.12 L557.7,388.05 L558.7,387.98 L559.7,387.91 L560.7,387.82 L561.7,387.74 L562.7,387.65 L563.7,387.56 L564.7,387.46 L565.7,387.37 L566.7,387.27 L567.7,387.17 L568.7,387.07 L569.7,386.96 L570.7,386.86 L571.7,386.76 L572.7,386.66 L573.7,386.56 L574.7,386.46 L575.7,386.36 L576.7,386.26 L577.7,386.16 L578.7,386.07 L579.7,385.97 L580.7,385.87 L581.7,385.78 L582.7,385.68 L583.7,385.59 L584.7,385.49 L585.7,385.40 L585.7,385.40" fill="none" stroke="#30624a" stroke-width="1.40" stroke-linejoin="round" stroke-linecap="round"/>
<path d="M63.1,358.00 L64.1,357.67 L65.1,357.34 L66.1,357.01 L67.1,356.68 L68.1,356.35 L69.1,356.02 L70.1,355.69 L71.1,355.36 L72.1,355.03 L73.1,354.69 L74.1,354.36 L75.1,354.03 L76.1,353.70 L77.1,353.36 L78.1,353.03 L79.1,352.69 L80.1,352.36 L81.1,352.03 L82.1,351.69 L83.1,351.36 L84.1,351.02 L85.1,350.68 L86.1,350.35 L87.1,350.01 L88.1,349.68 L89.1,349.34 L90.1,349.01 L91.1,348.67 L92.1,348.34 L93.1,348.00 L94.1,347.67 L95.1,347.33 L96.1,347.00 L97.1,346.67 L98.1,346.33 L99.1,346.00 L100.1,345.67 L101.1,345.33 L102.1,345.00 L103.1,344.67 L104.1,344.34 L105.1,344.01 L106.1,343.69 L107.1,343.36 L108.1,343.03 L109.1,342.71 L110.1,342.38 L111.1,342.06 L112.1,341.74 L113.1,341.41 L114.1,341.09 L115.1,340.77 L116.1,340.46 L117.1,340.14 L118.1,339.83 L119.1,339.51 L120.1,339.20 L121.1,338.90 L122.1,338.59 L123.1,338.29 L124.1,337.99 L125.1,337.70 L126.1,337.41 L127.1,337.13 L128.1,336.85 L129.1,336.57 L130.1,336.30 L131.1,336.04 L132.1,335.78 L133.1,335.53 L134.1,335.29 L135.1,335.05 L136.1,334.83 L137.1,334.60 L138.1,334.38 L139.1,334.17 L140.1,333.96 L141.1,333.75 L142.1,333.55 L143.1,333.34 L144.1,333.14 L145.1,332.93 L146.1,332.72 L147.1,332.51 L148.1,332.29 L149.1,332.07 L150.1,331.86 L151.1,331.64 L152.1,331.43 L153.1,331.22 L154.1,331.01 L155.1,330.81 L156.1,330.62 L157.1,330.43 L158.1,330.25 L159.1,330.08 L160.1,329.92 L161.1,329.77 L162.1,329.63 L163.1,329.50 L164.1,329.39 L165.1,329.29 L166.1,329.21 L167.1,329.14 L168.1,329.09 L169.1,329.06 L170.1,329.05 L171.1,329.05 L172.1,329.08 L173.1,329.12 L174.1,329.19 L175.1,329.28 L176.1,329.40 L177.1,329.53 L178.1,329.69 L179.1,329.86 L180.1,330.05 L181.1,330.26 L182.1,330.49 L183.1,330.73 L184.1,330.99 L185.1,331.26 L186.1,331.55 L187.1,331.85 L188.1,332.16 L189.1,332.48 L190.1,332.82 L191.1,333.16 L192.1,333.51 L193.1,333.87 L194.1,334.24 L195.1,334.61 L196.1,334.99 L197.1,335.38 L198.1,335.77 L199.1,336.16 L200.1,336.56 L201.1,336.96 L202.1,337.37 L203.1,337.79 L204.1,338.20 L205.1,338.63 L206.1,339.05 L207.1,339.49 L208.1,339.92 L209.1,340.37 L210.1,340.81 L211.1,341.27 L212.1,341.72 L213.1,342.18 L214.1,342.63 L215.1,343.09 L216.1,343.55 L217.1,344.00 L218.1,344.44 L219.1,344.88 L220.1,345.32 L221.1,345.75 L222.1,346.16 L223.1,346.57 L224.1,346.96 L225.1,347.34 L226.1,347.70 L227.1,348.05 L228.1,348.38 L229.1,348.71 L230.1,349.02 L231.1,349.32 L232.1,349.62 L233.1,349.91 L234.1,350.20 L235.1,350.48 L236.1,350.77 L237.1,351.05 L238.1,351.34 L239.1,351.63 L240.1,351.93 L241.1,352.23 L242.1,352.54 L243.1,352.86 L244.1,353.18 L245.1,353.51 L246.1,353.84 L247.1,354.18 L248.1,354.52 L249.1,354.86 L250.1,355.20 L251.1,355.55 L252.1,355.89 L253.1,356.24 L254.1,356.58 L255.1,356.92 L256.1,357.25 L257.1,357.59 L258.1,357.92 L259.1,358.24 L260.1,358.56 L261.1,358.87 L262.1,359.17 L263.1,359.47 L264.1,359.76 L265.1,360.04 L266.1,360.31 L267.1,360.57 L268.1,360.83 L269.1,361.07 L270.1,361.30 L271.1,361.51 L272.1,361.72 L273.1,361.91 L274.1,362.09 L275.1,362.26 L276.1,362.41 L277.1,362.55 L278.1,362.68 L279.1,362.80 L280.1,362.90 L281.1,362.99 L282.1,363.07 L283.1,363.14 L284.1,363.19 L285.1,363.23 L286.1,363.27 L287.1,363.29 L288.1,363.29 L289.1,363.29 L290.1,363.28 L291.1,363.25 L292.1,363.22 L293.1,363.17 L294.1,363.12 L295.1,363.05 L296.1,362.97 L297.1,362.89 L298.1,362.79 L299.1,362.68 L300.1,362.57 L301.1,362.45 L302.1,362.32 L303.1,362.17 L304.1,362.03 L305.1,361.87 L306.1,361.70 L307.1,361.53 L308.1,361.36 L309.1,361.18 L310.1,361.00 L311.1,360.81 L312.1,360.62 L313.1,360.44 L314.1,360.25 L315.1,360.06 L316.1,359.88 L317.1,359.70 L318.1,359.52 L319.1,359.35 L320.1,359.19 L321.1,359.03 L322.1,358.88 L323.1,358.73 L324.1,358.59 L325.1,358.45 L326.1,358.32 L327.1,358.20 L328.1,358.07 L329.1,357.96 L330.1,357.85 L331.1,357.74 L332.1,357.63 L333.1,357.53 L334.1,357.43 L335.1,357.34 L336.1,357.24 L337.1,357.15 L338.1,357.07 L339.1,356.98 L340.1,356.90 L341.1,356.82 L342.1,356.74 L343.1,356.66 L344.1,356.58 L345.1,356.50 L346.1,356.43 L347.1,356.36 L348.1,356.29 L349.1,356.22 L350.1,356.16 L351.1,356.10 L352.1,356.04 L353.1,355.98 L354.1,355.92 L355.1,355.87 L356.1,355.82 L357.1,355.77 L358.1,355.73 L359.1,355.69 L360.1,355.65 L361.1,355.61 L362.1,355.58 L363.1,355.55 L364.1,355.52 L365.1,355.50 L366.1,355.48 L367.1,355.47 L368.1,355.45 L369.1,355.44 L370.1,355.44 L371.1,355.43 L372.1,355.43 L373.1,355.43 L374.1,355.44 L375.1,355.45 L376.1,355.46 L377.1,355.47 L378.1,355.49 L379.1,355.51 L380.1,355.53 L381.1,355.55 L382.1,355.58 L383.1,355.60 L384.1,355.63 L385.1,355.67 L386.1,355.70 L387.1,355.74 L388.1,355.78 L389.1,355.82 L390.1,355.86 L391.1,355.90 L392.1,355.95 L393.1,356.00 L394.1,356.06 L395.1,356.13 L396.1,356.20 L397.1,356.28 L398.1,356.37 L399.1,356.48 L400.1,356.59 L401.1,356.72 L402.1,356.86 L403.1,357.01 L404.1,357.19 L405.1,357.38 L406.1,357.58 L407.1,357.80 L408.1,358.04 L409.1,358.29 L410.1,358.55 L411.1,358.81 L412.1,359.09 L413.1,359.38 L414.1,359.67 L415.1,359.96 L416.1,360.26 L417.1,360.57 L418.1,360.87 L419.1,361.17 L420.1,361.47 L421.1,361.78 L422.1,362.08 L423.1,362.38 L424.1,362.68 L425.1,362.98 L426.1,363.28 L427.1,363.58 L428.1,363.87 L429.1,364.16 L430.1,364.44 L431.1,364.73 L432.1,365.00 L433.1,365.27 L434.1,365.54 L435.1,365.80 L436.1,366.05 L437.1,366.29 L438.1,366.53 L439.1,366.76 L440.1,366.97 L441.1,367.18 L442.1,367.37 L443.1,367.56 L444.1,367.74 L445.1,367.90 L446.1,368.06 L447.1,368.21 L448.1,368.36 L449.1,368.49 L450.1,368.62 L451.1,368.74 L452.1,368.86 L453.1,368.97 L454.1,369.08 L455.1,369.18 L456.1,369.28 L457.1,369.38 L458.1,369.47 L459.1,369.56 L460.1,369.66 L461.1,369.75 L462.1,369.85 L463.1,369.95 L464.1,370.05 L465.1,370.15 L466.1,370.25 L467.1,370.36 L468.1,370.47 L469.1,370.59 L470.1,370.71 L471.1,370.83 L472.1,370.96 L473.1,371.10 L474.1,371.23 L475.1,371.37 L476.1,371.51 L477.1,371.64 L478.1,371.78 L479.1,371.91 L480.1,372.03 L481.1,372.15 L482.1,372.26 L483.1,372.37 L484.1,372.47 L485.1,372.56 L486.1,372.66 L487.1,372.75 L488.1,372.84 L489.1,372.94 L490.1,373.04 L491.1,373.14 L492.1,373.25 L493.1,373.37 L494.1,373.49 L495.1,373.63 L496.1,373.77 L497.1,373.91 L498.1,374.07 L499.1,374.24 L500.1,374.42 L501.1,374.62 L502.1,374.82 L503.1,375.04 L504.1,375.26 L505.1,375.49 L506.1,375.73 L507.1,375.97 L508.1,376.21 L509.1,376.44 L510.1,376.68 L511.1,376.91 L512.1,377.14 L513.1,377.35 L514.1,377.56 L515.1,377.75 L516.1,377.93 L517.1,378.09 L518.1,378.25 L519.1,378.39 L520.1,378.52 L521.1,378.64 L522.1,378.74 L523.1,378.84 L524.1,378.93 L525.1,379.00 L526.1,379.07 L527.1,379.13 L528.1,379.18 L529.1,379.23 L530.1,379.27 L531.1,379.29 L532.1,379.32 L533.1,379.33 L534.1,379.34 L535.1,379.34 L536.1,379.33 L537.1,379.31 L538.1,379.28 L539.1,379.25 L540.1,379.21 L541.1,379.15 L542.1,379.09 L543.1,379.02 L544.1,378.94 L545.1,378.85 L546.1,378.76 L547.1,378.65 L548.1,378.54 L549.1,378.41 L550.1,378.29 L551.1,378.15 L552.1,378.01 L553.1,377.86 L554.1,377.71 L555.1,377.56 L556.1,377.40 L557.1,377.24 L558.1,377.07 L559.1,376.90 L560.1,376.73 L561.1,376.56 L562.1,376.39 L563.1,376.22 L564.1,376.05 L565.1,375.88 L566.1,375.72 L567.1,375.56 L568.1,375.40 L569.1,375.25 L570.1,375.10 L571.1,374.96 L572.1,374.82 L573.1,374.70 L574.1,374.58 L575.1,374.47 L576.1,374.36 L577.1,374.27 L578.1,374.17 L579.1,374.09 L580.1,374.01 L581.1,373.93 L582.1,373.85 L583.1,373.78 L584.1,373.71 L585.1,373.64 L585.7,373.60" fill="none" stroke="#e87118" stroke-width="1.40" stroke-linejoin="round" stroke-linecap="round"/>
<path d="M63.1,352.60 L64.1,352.07 L65.1,351.54 L66.1,351.00 L67.1,350.46 L68.1,349.91 L69.1,349.36 L70.1,348.80 L71.1,348.23 L72.1,347.66 L73.1,347.07 L74.1,346.47 L75.1,345.85 L76.1,345.22 L77.1,344.58 L78.1,343.92 L79.1,343.24 L80.1,342.55 L81.1,341.84 L82.1,341.12 L83.1,340.37 L84.1,339.61 L85.1,338.84 L86.1,338.04 L87.1,337.23 L88.1,336.40 L89.1,335.55 L90.1,334.69 L91.1,333.82 L92.1,332.94 L93.1,332.05 L94.1,331.16 L95.1,330.25 L96.1,329.34 L97.1,328.43 L98.1,327.51 L99.1,326.59 L100.1,325.66 L101.1,324.72 L102.1,323.78 L103.1,322.83 L104.1,321.88 L105.1,320.92 L106.1,319.95 L107.1,318.98 L108.1,318.00 L109.1,317.02 L110.1,316.03 L111.1,315.04 L112.1,314.05 L113.1,313.06 L114.1,312.07 L115.1,311.09 L116.1,310.10 L117.1,309.13 L118.1,308.16 L119.1,307.19 L120.1,306.23 L121.1,305.29 L122.1,304.35 L123.1,303.43 L124.1,302.51 L125.1,301.61 L126.1,300.73 L127.1,299.86 L128.1,299.01 L129.1,298.16 L130.1,297.32 L131.1,296.48 L132.1,295.64 L133.1,294.80 L134.1,293.95 L135.1,293.10 L136.1,292.23 L137.1,291.34 L138.1,290.44 L139.1,289.53 L140.1,288.59 L141.1,287.63 L142.1,286.64 L143.1,285.63 L144.1,284.59 L145.1,283.52 L146.1,282.43 L147.1,281.32 L148.1,280.19 L149.1,279.05 L150.1,277.89 L151.1,276.73 L152.1,275.55 L153.1,274.38 L154.1,273.19 L155.1,272.01 L156.1,270.83 L157.1,269.64 L158.1,268.46 L159.1,267.28 L160.1,266.11 L161.1,264.94 L162.1,263.77 L163.1,262.61 L164.1,261.46 L165.1,260.29 L166.1,259.13 L167.1,257.96 L168.1,256.78 L169.1,255.59 L170.1,254.38 L171.1,253.16 L172.1,251.92 L173.1,250.66 L174.1,249.38 L175.1,248.08 L176.1,246.77 L177.1,245.42 L178.1,244.06 L179.1,242.67 L180.1,241.26 L181.1,239.83 L182.1,238.37 L183.1,236.90 L184.1,235.40 L185.1,233.90 L186.1,232.37 L187.1,230.84 L188.1,229.30 L189.1,227.75 L190.1,226.19 L191.1,224.63 L192.1,223.08 L193.1,221.53 L194.1,219.99 L195.1,218.46 L196.1,216.95 L197.1,215.46 L198.1,213.99 L199.1,212.55 L200.1,211.13 L201.1,209.75 L202.1,208.39 L203.1,207.07 L204.1,205.77 L205.1,204.50 L206.1,203.26 L207.1,202.05 L208.1,200.86 L209.1,199.71 L210.1,198.58 L211.1,197.48 L212.1,196.40 L213.1,195.34 L214.1,194.31 L215.1,193.30 L216.1,192.30 L217.1,191.33 L218.1,190.37 L219.1,189.42 L220.1,188.49 L221.1,187.57 L222.1,186.66 L223.1,185.77 L224.1,184.88 L225.1,184.00 L226.1,183.13 L227.1,182.26 L228.1,181.40 L229.1,180.55 L230.1,179.71 L231.1,178.87 L232.1,178.05 L233.1,177.24 L234.1,176.43 L235.1,175.64 L236.1,174.86 L237.1,174.08 L238.1,173.31 L239.1,172.54 L240.1,171.77 L241.1,171.00 L242.1,170.22 L243.1,169.45 L244.1,168.67 L245.1,167.89 L246.1,167.11 L247.1,166.33 L248.1,165.55 L249.1,164.78 L250.1,164.00 L251.1,163.22 L252.1,162.45 L253.1,161.69 L254.1,160.92 L255.1,160.17 L256.1,159.42 L257.1,158.68 L258.1,157.94 L259.1,157.22 L260.1,156.51 L261.1,155.81 L262.1,155.13 L263.1,154.45 L264.1,153.78 L265.1,153.12 L266.1,152.46 L267.1,151.79 L268.1,151.13 L269.1,150.45 L270.1,149.77 L271.1,149.08 L272.1,148.37 L273.1,147.65 L274.1,146.92 L275.1,146.17 L276.1,145.40 L277.1,144.61 L278.1,143.81 L279.1,142.99 L280.1,142.15 L281.1,141.29 L282.1,140.41 L283.1,139.51 L284.1,138.59 L285.1,137.64 L286.1,136.68 L287.1,135.69 L288.1,134.68 L289.1,133.65 L290.1,132.59 L291.1,131.50 L292.1,130.39 L293.1,129.26 L294.1,128.10 L295.1,126.91 L296.1,125.68 L297.1,124.43 L298.1,123.15 L299.1,121.83 L300.1,120.47 L301.1,119.09 L302.1,117.67 L303.1,116.23 L304.1,114.77 L305.1,113.31 L306.1,111.84 L307.1,110.37 L308.1,108.91 L309.1,107.47 L310.1,106.05 L311.1,104.67 L312.1,103.32 L313.1,102.02 L314.1,100.76 L315.1,99.56 L316.1,98.42 L317.1,97.32 L318.1,96.29 L319.1,95.31 L320.1,94.40 L321.1,93.54 L322.1,92.75 L323.1,92.02 L324.1,91.35 L325.1,90.74 L326.1,90.20 L327.1,89.71 L328.1,89.28 L329.1,88.91 L330.1,88.59 L331.1,88.33 L332.1,88.12 L333.1,87.96 L334.1,87.86 L335.1,87.80 L336.1,87.80 L337.1,87.84 L338.1,87.93 L339.1,88.07 L340.1,88.26 L341.1,88.49 L342.1,88.76 L343.1,89.07 L344.1,89.42 L345.1,89.81 L346.1,90.22 L347.1,90.67 L348.1,91.14 L349.1,91.63 L350.1,92.14 L351.1,92.67 L352.1,93.22 L353.1,93.77 L354.1,94.34 L355.1,94.91 L356.1,95.48 L357.1,96.05 L358.1,96.61 L359.1,97.17 L360.1,97.72 L361.1,98.27 L362.1,98.81 L363.1,99.34 L364.1,99.86 L365.1,100.38 L366.1,100.90 L367.1,101.41 L368.1,101.91 L369.1,102.41 L370.1,102.90 L371.1,103.39 L372.1,103.88 L373.1,104.37 L374.1,104.86 L375.1,105.35 L376.1,105.85 L377.1,106.34 L378.1,106.84 L379.1,107.35 L380.1,107.87 L381.1,108.40 L382.1,108.95 L383.1,109.51 L384.1,110.09 L385.1,110.69 L386.1,111.32 L387.1,111.97 L388.1,112.64 L389.1,113.34 L390.1,114.07 L391.1,114.82 L392.1,115.60 L393.1,116.40 L394.1,117.24 L395.1,118.10 L396.1,119.00 L397.1,119.92 L398.1,120.87 L399.1,121.86 L400.1,122.87 L401.1,123.92 L402.1,124.99 L403.1,126.10 L404.1,127.24 L405.1,128.42 L406.1,129.62 L407.1,130.85 L408.1,132.10 L409.1,133.38 L410.1,134.69 L411.1,136.01 L412.1,137.36 L413.1,138.73 L414.1,140.12 L415.1,141.51 L416.1,142.93 L417.1,144.35 L418.1,145.77 L419.1,147.20 L420.1,148.63 L421.1,150.06 L422.1,151.48 L423.1,152.90 L424.1,154.30 L425.1,155.69 L426.1,157.05 L427.1,158.39 L428.1,159.71 L429.1,160.99 L430.1,162.24 L431.1,163.45 L432.1,164.62 L433.1,165.75 L434.1,166.84 L435.1,167.88 L436.1,168.87 L437.1,169.81 L438.1,170.69 L439.1,171.53 L440.1,172.31 L441.1,173.03 L442.1,173.70 L443.1,174.32 L444.1,174.88 L445.1,175.38 L446.1,175.83 L447.1,176.22 L448.1,176.55 L449.1,176.82 L450.1,177.04 L451.1,177.19 L452.1,177.29 L453.1,177.32 L454.1,177.30 L455.1,177.22 L456.1,177.08 L457.1,176.88 L458.1,176.63 L459.1,176.32 L460.1,175.96 L461.1,175.55 L462.1,175.09 L463.1,174.57 L464.1,174.01 L465.1,173.40 L466.1,172.73 L467.1,172.02 L468.1,171.26 L469.1,170.45 L470.1,169.58 L471.1,168.67 L472.1,167.71 L473.1,166.70 L474.1,165.64 L475.1,164.55 L476.1,163.42 L477.1,162.26 L478.1,161.07 L479.1,159.87 L480.1,158.65 L481.1,157.42 L482.1,156.18 L483.1,154.95 L484.1,153.71 L485.1,152.49 L486.1,151.29 L487.1,150.10 L488.1,148.93 L489.1,147.80 L490.1,146.69 L491.1,145.62 L492.1,144.58 L493.1,143.58 L494.1,142.63 L495.1,141.71 L496.1,140.83 L497.1,140.01 L498.1,139.22 L499.1,138.48 L500.1,137.78 L501.1,137.13 L502.1,136.52 L503.1,135.94 L504.1,135.39 L505.1,134.86 L506.1,134.33 L506.2,134.28 L507.2,134.70 L508.2,135.10 L509.2,135.49 L510.2,135.88 L511.2,136.27 L512.2,136.65 L513.2,137.03 L514.2,137.39 L515.2,137.75 L516.2,138.10 L517.2,138.43 L518.2,138.76 L519.2,139.07 L520.2,139.38 L521.2,139.67 L522.2,139.94 L523.2,140.21 L524.2,140.46 L525.2,140.71 L526.2,140.95 L527.2,141.18 L528.2,141.40 L529.2,141.63 L530.2,141.84 L531.2,142.06 L532.2,142.28 L533.2,142.50 L534.2,142.71 L535.2,142.93 L536.2,143.15 L537.2,143.38 L538.2,143.60 L539.2,143.82 L540.2,144.05 L541.2,144.27 L542.2,144.50 L543.2,144.73 L544.2,144.96 L545.2,145.19 L546.2,145.42 L547.2,145.65 L548.2,145.88 L549.2,146.12 L550.2,146.35 L551.2,146.59 L552.2,146.83 L553.2,147.06 L554.2,147.30 L555.2,147.54 L556.2,147.78 L557.2,148.01 L558.2,148.25 L559.2,148.49 L560.2,148.72 L561.2,148.96 L562.2,149.19 L563.2,149.43 L564.2,149.66 L565.2,149.89 L566.2,150.12 L567.2,150.35 L568.2,150.58 L569.2,150.81 L570.2,151.04 L571.2,151.27 L572.2,151.50 L573.2,151.74 L574.2,151.97 L575.2,152.20 L576.2,152.43 L577.2,152.67 L578.2,152.90 L579.2,153.14 L580.2,153.38 L581.2,153.62 L582.2,153.86 L583.2,154.10 L584.2,154.34 L585.2,154.58 L585.7,154.70" fill="none" stroke="#bc6270" stroke-width="1.40" stroke-linejoin="round" stroke-linecap="round"/>
<path d="M63.1,291.30 L64.1,292.29 L65.1,293.26 L66.1,294.24 L67.1,295.20 L68.1,296.15 L69.1,297.08 L70.1,297.99 L71.1,298.88 L72.1,299.75 L73.1,300.60 L74.1,301.43 L75.1,302.23 L76.1,303.01 L77.1,303.78 L78.1,304.53 L79.1,305.26 L80.1,305.97 L81.1,306.68 L82.1,307.38 L83.1,308.07 L84.1,308.75 L85.1,309.43 L86.1,310.12 L87.1,310.80 L88.1,311.47 L89.1,312.15 L90.1,312.81 L91.1,313.47 L92.1,314.13 L93.1,314.77 L94.1,315.40 L95.1,316.02 L96.1,316.63 L97.1,317.22 L98.1,317.80 L99.1,318.36 L100.1,318.90 L101.1,319.43 L102.1,319.94 L103.1,320.44 L104.1,320.91 L105.1,321.37 L106.1,321.81 L107.1,322.22 L108.1,322.62 L109.1,323.00 L110.1,323.35 L111.1,323.69 L112.1,324.00 L113.1,324.29 L114.1,324.56 L115.1,324.81 L116.1,325.03 L117.1,325.23 L118.1,325.41 L119.1,325.58 L120.1,325.72 L121.1,325.84 L122.1,325.95 L123.1,326.04 L124.1,326.12 L125.1,326.18 L126.1,326.23 L127.1,326.27 L128.1,326.30 L129.1,326.32 L130.1,326.32 L131.1,326.32 L132.1,326.31 L133.1,326.29 L134.1,326.27 L135.1,326.24 L136.1,326.20 L137.1,326.14 L138.1,326.07 L139.1,325.98 L140.1,325.86 L141.1,325.70 L142.1,325.50 L143.1,325.26 L144.1,324.98 L145.1,324.65 L146.1,324.29 L147.1,323.89 L148.1,323.47 L149.1,323.03 L150.1,322.58 L151.1,322.11 L152.1,321.63 L153.1,321.15 L154.1,320.67 L155.1,320.18 L156.1,319.70 L157.1,319.22 L158.1,318.75 L159.1,318.29 L160.1,317.83 L161.1,317.39 L162.1,316.94 L163.1,316.50 L164.1,316.06 L165.1,315.61 L166.1,315.15 L167.1,314.68 L168.1,314.21 L169.1,313.72 L170.1,313.23 L171.1,312.73 L172.1,312.22 L173.1,311.71 L174.1,311.19 L175.1,310.67 L176.1,310.15 L177.1,309.63 L178.1,309.13 L179.1,308.64 L180.1,308.18 L181.1,307.74 L182.1,307.33 L183.1,306.95 L184.1,306.62 L185.1,306.33 L186.1,306.10 L187.1,305.93 L188.1,305.82 L189.1,305.79 L190.1,305.83 L191.1,305.95 L192.1,306.15 L193.1,306.43 L194.1,306.78 L195.1,307.21 L196.1,307.71 L197.1,308.27 L198.1,308.90 L199.1,309.57 L200.1,310.28 L201.1,311.01 L202.1,311.76 L203.1,312.50 L204.1,313.24 L205.1,313.96 L206.1,314.66 L207.1,315.35 L208.1,316.01 L209.1,316.65 L210.1,317.27 L211.1,317.88 L212.1,318.46 L213.1,319.03 L214.1,319.58 L215.1,320.11 L216.1,320.61 L217.1,321.10 L218.1,321.55 L219.1,321.98 L220.1,322.37 L221.1,322.74 L222.1,323.06 L223.1,323.35 L224.1,323.60 L225.1,323.83 L226.1,324.03 L227.1,324.21 L228.1,324.37 L229.1,324.51 L230.1,324.64 L231.1,324.77 L232.1,324.88 L233.1,324.98 L234.1,325.07 L235.1,325.15 L236.1,325.23 L237.1,325.29 L238.1,325.35 L239.1,325.39 L240.1,325.43 L241.1,325.45 L242.1,325.47 L243.1,325.48 L244.1,325.48 L245.1,325.48 L246.1,325.48 L247.1,325.47 L248.1,325.46 L249.1,325.45 L250.1,325.45 L251.1,325.44 L252.1,325.44 L253.1,325.45 L254.1,325.47 L255.1,325.49 L256.1,325.52 L257.1,325.57 L258.1,325.62 L259.1,325.69 L260.1,325.77 L261.1,325.87 L262.1,325.97 L263.1,326.09 L264.1,326.23 L265.1,326.38 L266.1,326.55 L267.1,326.73 L268.1,326.93 L269.1,327.14 L270.1,327.37 L271.1,327.62 L272.1,327.89 L273.1,328.17 L274.1,328.47 L275.1,328.79 L276.1,329.13 L277.1,329.48 L278.1,329.84 L279.1,330.22 L280.1,330.61 L281.1,331.02 L282.1,331.44 L283.1,331.87 L284.1,332.32 L285.1,332.78 L286.1,333.25 L287.1,333.74 L288.1,334.25 L289.1,334.77 L290.1,335.31 L291.1,335.87 L292.1,336.43 L293.1,337.02 L294.1,337.61 L295.1,338.22 L296.1,338.83 L297.1,339.46 L298.1,340.09 L299.1,340.72 L300.1,341.35 L301.1,341.97 L302.1,342.57 L303.1,343.15 L304.1,343.70 L305.1,344.23 L306.1,344.72 L307.1,345.19 L308.1,345.63 L309.1,346.03 L310.1,346.41 L311.1,346.76 L312.1,347.08 L313.1,347.37 L314.1,347.64 L315.1,347.87 L316.1,348.08 L317.1,348.26 L318.1,348.41 L319.1,348.54 L320.1,348.64 L321.1,348.71 L322.1,348.76 L323.1,348.79 L324.1,348.79 L325.1,348.77 L326.1,348.72 L327.1,348.65 L328.1,348.56 L329.1,348.43 L330.1,348.28 L331.1,348.10 L332.1,347.90 L333.1,347.67 L334.1,347.41 L335.1,347.13 L336.1,346.83 L337.1,346.51 L338.1,346.18 L339.1,345.83 L340.1,345.47 L341.1,345.09 L342.1,344.70 L343.1,344.31 L344.1,343.91 L345.1,343.51 L346.1,343.10 L347.1,342.69 L348.1,342.29 L349.1,341.89 L350.1,341.49 L351.1,341.10 L352.1,340.72 L353.1,340.35 L354.1,339.98 L355.1,339.63 L356.1,339.28 L357.1,338.94 L358.1,338.61 L359.1,338.29 L360.1,337.97 L361.1,337.67 L362.1,337.38 L363.1,337.09 L364.1,336.81 L365.1,336.54 L366.1,336.28 L367.1,336.02 L368.1,335.77 L369.1,335.53 L370.1,335.29 L371.1,335.06 L372.1,334.83 L373.1,334.61 L374.1,334.39 L375.1,334.19 L376.1,333.99 L377.1,333.80 L378.1,333.62 L379.1,333.45 L380.1,333.29 L381.1,333.15 L382.1,333.02 L383.1,332.90 L384.1,332.80 L385.1,332.72 L386.1,332.65 L387.1,332.61 L388.1,332.59 L389.1,332.59 L390.1,332.62 L391.1,332.67 L392.1,332.74 L393.1,332.85 L394.1,332.98 L395.1,333.13 L396.1,333.32 L397.1,333.54 L398.1,333.79 L399.1,334.07 L400.1,334.39 L401.1,334.73 L402.1,335.11 L403.1,335.53 L404.1,335.97 L405.1,336.45 L406.1,336.96 L407.1,337.51 L408.1,338.07 L409.1,338.67 L410.1,339.28 L411.1,339.91 L412.1,340.56 L413.1,341.22 L414.1,341.89 L415.1,342.58 L416.1,343.27 L417.1,343.97 L418.1,344.67 L419.1,345.38 L420.1,346.09 L421.1,346.80 L422.1,347.51 L423.1,348.22 L424.1,348.93 L425.1,349.63 L426.1,350.34 L427.1,351.04 L428.1,351.74 L429.1,352.44 L430.1,353.14 L431.1,353.84 L432.1,354.54 L433.1,355.23 L434.1,355.93 L435.1,356.63 L436.1,357.33 L437.1,358.04 L438.1,358.75 L439.1,359.47 L440.1,360.19 L441.1,360.92 L442.1,361.65 L443.1,362.39 L444.1,363.15 L445.1,363.91 L446.1,364.68 L447.1,365.46 L448.1,366.25 L449.1,367.05 L450.1,367.86 L451.1,368.67 L452.1,369.48 L453.1,370.28 L454.1,371.08 L455.1,371.87 L456.1,372.65 L457.1,373.42 L458.1,374.17 L459.1,374.91 L460.1,375.64 L461.1,376.35 L462.1,377.04 L463.1,377.71 L464.1,378.37 L465.1,379.00 L466.1,379.61 L467.1,380.21 L468.1,380.78 L469.1,381.33 L470.1,381.86 L471.1,382.37 L472.1,382.85 L473.1,383.31 L474.1,383.76 L475.1,384.18 L476.1,384.59 L477.1,384.98 L478.1,385.36 L479.1,385.73 L480.1,386.09 L481.1,386.44 L482.1,386.78 L483.1,387.11 L484.1,387.44 L485.1,387.76 L486.1,388.07 L487.1,388.37 L488.1,388.67 L489.1,388.96 L490.1,389.24 L491.1,389.52 L492.1,389.79 L493.1,390.05 L494.1,390.31 L495.1,390.56 L496.1,390.81 L497.1,391.05 L498.1,391.28 L499.1,391.51 L500.1,391.73 L501.1,391.94 L502.1,392.14 L503.1,392.34 L504.1,392.53 L505.1,392.72 L506.1,392.90 L507.1,393.07 L508.1,393.24 L509.1,393.40 L510.1,393.56 L511.1,393.71 L512.1,393.86 L513.1,394.00 L514.1,394.14 L515.1,394.28 L516.1,394.42 L517.1,394.55 L518.1,394.68 L519.1,394.81 L520.1,394.93 L521.1,395.05 L522.1,395.16 L523.1,395.28 L524.1,395.39 L525.1,395.49 L526.1,395.60 L527.1,395.70 L528.1,395.79 L529.1,395.88 L530.1,395.97 L531.1,396.06 L532.1,396.14 L533.1,396.22 L534.1,396.29 L535.1,396.36 L536.1,396.42 L537.1,396.49 L538.1,396.54 L539.1,396.60 L540.1,396.64 L541.1,396.69 L542.1,396.73 L543.1,396.76 L544.1,396.79 L545.1,396.81 L546.1,396.83 L547.1,396.85 L548.1,396.86 L549.1,396.87 L550.1,396.88 L551.1,396.88 L552.1,396.88 L553.1,396.88 L554.1,396.87 L555.1,396.87 L556.1,396.86 L557.1,396.85 L558.1,396.84 L559.1,396.83 L560.1,396.82 L561.1,396.81 L562.1,396.80 L563.1,396.78 L564.1,396.76 L565.1,396.74 L566.1,396.71 L567.1,396.68 L568.1,396.64 L569.1,396.60 L570.1,396.55 L571.1,396.49 L572.1,396.43 L573.1,396.36 L574.1,396.27 L575.1,396.18 L576.1,396.09 L577.1,395.98 L578.1,395.87 L579.1,395.75 L580.1,395.63 L581.1,395.51 L582.1,395.38 L583.1,395.25 L584.1,395.12 L585.1,394.98 L585.7,394.90" fill="none" stroke="#c0182f" stroke-width="1.40" stroke-linejoin="round" stroke-linecap="round"/>
<path d="M63.1,285.20 L64.1,285.64 L65.1,286.07 L66.1,286.50 L67.1,286.93 L68.1,287.36 L69.1,287.78 L70.1,288.19 L71.1,288.61 L72.1,289.01 L73.1,289.40 L74.1,289.79 L75.1,290.17 L76.1,290.54 L77.1,290.89 L78.1,291.24 L79.1,291.57 L80.1,291.88 L81.1,292.18 L82.1,292.46 L83.1,292.73 L84.1,292.97 L85.1,293.20 L86.1,293.40 L87.1,293.59 L88.1,293.75 L89.1,293.89 L90.1,294.00 L91.1,294.10 L92.1,294.18 L93.1,294.23 L94.1,294.27 L95.1,294.28 L96.1,294.28 L97.1,294.25 L98.1,294.21 L99.1,294.14 L100.1,294.06 L101.1,293.96 L102.1,293.85 L103.1,293.72 L104.1,293.57 L105.1,293.41 L106.1,293.24 L107.1,293.06 L108.1,292.86 L109.1,292.64 L110.1,292.42 L111.1,292.18 L112.1,291.92 L113.1,291.65 L114.1,291.36 L115.1,291.06 L116.1,290.74 L117.1,290.41 L118.1,290.06 L119.1,289.70 L120.1,289.32 L121.1,288.93 L122.1,288.53 L123.1,288.12 L124.1,287.70 L125.1,287.26 L126.1,286.82 L127.1,286.36 L128.1,285.89 L129.1,285.40 L130.1,284.88 L131.1,284.34 L132.1,283.78 L133.1,283.18 L134.1,282.55 L135.1,281.89 L136.1,281.19 L137.1,280.45 L138.1,279.68 L139.1,278.87 L140.1,278.02 L141.1,277.14 L142.1,276.22 L143.1,275.27 L144.1,274.27 L145.1,273.25 L146.1,272.19 L147.1,271.12 L148.1,270.02 L149.1,268.91 L150.1,267.79 L151.1,266.66 L152.1,265.53 L153.1,264.41 L154.1,263.28 L155.1,262.16 L156.1,261.04 L157.1,259.91 L158.1,258.79 L159.1,257.67 L160.1,256.55 L161.1,255.42 L162.1,254.30 L163.1,253.17 L164.1,252.05 L165.1,250.93 L166.1,249.81 L167.1,248.71 L168.1,247.61 L169.1,246.52 L170.1,245.44 L171.1,244.37 L172.1,243.32 L173.1,242.28 L174.1,241.26 L175.1,240.25 L176.1,239.26 L177.1,238.27 L178.1,237.31 L179.1,236.36 L180.1,235.42 L181.1,234.50 L182.1,233.59 L183.1,232.70 L184.1,231.82 L185.1,230.95 L186.1,230.10 L187.1,229.27 L188.1,228.44 L189.1,227.63 L190.1,226.83 L191.1,226.05 L192.1,225.28 L193.1,224.53 L194.1,223.80 L195.1,223.09 L196.1,222.41 L197.1,221.76 L198.1,221.14 L199.1,220.55 L200.1,220.00 L201.1,219.49 L202.1,219.02 L203.1,218.59 L204.1,218.20 L205.1,217.85 L206.1,217.55 L207.1,217.29 L208.1,217.08 L209.1,216.91 L210.1,216.78 L211.1,216.69 L212.1,216.64 L213.1,216.63 L214.1,216.65 L215.1,216.70 L216.1,216.77 L217.1,216.88 L218.1,217.01 L219.1,217.16 L220.1,217.33 L221.1,217.52 L222.1,217.74 L223.1,217.97 L224.1,218.22 L225.1,218.48 L226.1,218.76 L227.1,219.06 L228.1,219.37 L229.1,219.69 L230.1,220.04 L231.1,220.39 L232.1,220.76 L233.1,221.15 L234.1,221.56 L235.1,221.98 L236.1,222.41 L237.1,222.87 L238.1,223.33 L239.1,223.82 L240.1,224.31 L241.1,224.83 L242.1,225.35 L243.1,225.88 L244.1,226.42 L245.1,226.96 L246.1,227.51 L247.1,228.05 L248.1,228.60 L249.1,229.13 L250.1,229.66 L251.1,230.19 L252.1,230.71 L253.1,231.23 L254.1,231.75 L255.1,232.28 L256.1,232.81 L257.1,233.34 L258.1,233.88 L259.1,234.44 L260.1,235.00 L261.1,235.57 L262.1,236.14 L263.1,236.72 L264.1,237.31 L265.1,237.90 L266.1,238.50 L267.1,239.09 L268.1,239.69 L269.1,240.29 L270.1,240.89 L271.1,241.50 L272.1,242.11 L273.1,242.73 L274.1,243.35 L275.1,243.99 L276.1,244.63 L277.1,245.29 L278.1,245.96 L279.1,246.64 L280.1,247.32 L281.1,248.00 L282.1,248.68 L283.1,249.35 L284.1,250.01 L285.1,250.65 L286.1,251.27 L287.1,251.87 L288.1,252.45 L289.1,253.01 L290.1,253.55 L291.1,254.08 L292.1,254.60 L293.1,255.11 L294.1,255.62 L295.1,256.12 L296.1,256.62 L297.1,257.13 L298.1,257.63 L299.1,258.13 L300.1,258.64 L301.1,259.14 L302.1,259.63 L303.1,260.12 L304.1,260.60 L305.1,261.08 L306.1,261.54 L307.1,262.00 L308.1,262.44 L309.1,262.87 L310.1,263.27 L311.1,263.66 L312.1,264.02 L313.1,264.36 L314.1,264.67 L315.1,264.96 L316.1,265.21 L317.1,265.42 L318.1,265.59 L319.1,265.71 L320.1,265.79 L321.1,265.81 L322.1,265.77 L323.1,265.67 L324.1,265.51 L325.1,265.29 L326.1,265.02 L327.1,264.71 L328.1,264.34 L329.1,263.93 L330.1,263.48 L331.1,262.99 L332.1,262.46 L333.1,261.91 L334.1,261.32 L335.1,260.71 L336.1,260.07 L337.1,259.42 L338.1,258.74 L339.1,258.06 L340.1,257.36 L341.1,256.65 L342.1,255.93 L343.1,255.20 L344.1,254.46 L345.1,253.71 L346.1,252.96 L347.1,252.20 L348.1,251.44 L349.1,250.69 L350.1,249.95 L351.1,249.23 L352.1,248.55 L353.1,247.90 L354.1,247.29 L355.1,246.73 L356.1,246.20 L357.1,245.70 L358.1,245.22 L359.1,244.76 L360.1,244.31 L361.1,243.86 L362.1,243.42 L363.1,242.98 L364.1,242.56 L365.1,242.16 L366.1,241.79 L367.1,241.46 L368.1,241.17 L369.1,240.93 L370.1,240.74 L371.1,240.61 L372.1,240.53 L373.1,240.50 L374.1,240.52 L375.1,240.59 L376.1,240.71 L377.1,240.89 L378.1,241.11 L379.1,241.38 L380.1,241.69 L381.1,242.05 L382.1,242.44 L383.1,242.88 L384.1,243.35 L385.1,243.85 L386.1,244.39 L387.1,244.96 L388.1,245.55 L389.1,246.18 L390.1,246.83 L391.1,247.50 L392.1,248.20 L393.1,248.92 L394.1,249.66 L395.1,250.43 L396.1,251.21 L397.1,252.01 L398.1,252.84 L399.1,253.70 L400.1,254.59 L401.1,255.52 L402.1,256.48 L403.1,257.50 L404.1,258.56 L405.1,259.67 L406.1,260.83 L407.1,262.04 L408.1,263.28 L409.1,264.55 L410.1,265.85 L411.1,267.16 L412.1,268.49 L413.1,269.82 L414.1,271.16 L415.1,272.51 L416.1,273.85 L417.1,275.19 L418.1,276.54 L419.1,277.88 L420.1,279.22 L421.1,280.55 L422.1,281.87 L423.1,283.19 L424.1,284.49 L425.1,285.78 L426.1,287.06 L427.1,288.32 L428.1,289.56 L429.1,290.78 L430.1,291.98 L431.1,293.15 L432.1,294.30 L433.1,295.41 L434.1,296.50 L435.1,297.55 L436.1,298.56 L437.1,299.53 L438.1,300.46 L439.1,301.35 L440.1,302.18 L441.1,302.97 L442.1,303.71 L443.1,304.39 L444.1,305.02 L445.1,305.61 L446.1,306.14 L447.1,306.62 L448.1,307.06 L449.1,307.45 L450.1,307.80 L451.1,308.10 L452.1,308.36 L453.1,308.58 L454.1,308.75 L455.1,308.88 L456.1,308.97 L457.1,309.03 L458.1,309.04 L459.1,309.01 L460.1,308.95 L461.1,308.85 L462.1,308.73 L463.1,308.57 L464.1,308.40 L465.1,308.20 L466.1,307.99 L467.1,307.77 L468.1,307.54 L469.1,307.29 L470.1,307.02 L471.1,306.74 L472.1,306.43 L473.1,306.10 L474.1,305.73 L475.1,305.34 L476.1,304.92 L477.1,304.49 L478.1,304.04 L479.1,303.58 L480.1,303.12 L481.1,302.67 L482.1,302.22 L483.1,301.79 L484.1,301.36 L485.1,300.94 L486.1,300.53 L487.1,300.13 L488.1,299.73 L489.1,299.35 L490.1,298.97 L491.1,298.60 L492.1,298.24 L493.1,297.89 L494.1,297.55 L495.1,297.22 L496.1,296.91 L497.1,296.61 L498.1,296.33 L499.1,296.06 L500.1,295.83 L501.1,295.64 L502.1,295.50 L503.1,295.43 L504.1,295.41 L505.1,295.47 L506.1,295.58 L507.1,295.77 L508.1,296.02 L509.1,296.33 L510.1,296.69 L511.1,297.09 L512.1,297.53 L513.1,297.98 L514.1,298.45 L515.1,298.93 L516.1,299.40 L517.1,299.87 L518.1,300.33 L519.1,300.78 L520.1,301.23 L521.1,301.68 L522.1,302.12 L523.1,302.55 L524.1,302.98 L525.1,303.41 L526.1,303.83 L527.1,304.24 L528.1,304.65 L529.1,305.04 L530.1,305.42 L531.1,305.79 L532.1,306.14 L533.1,306.47 L534.1,306.78 L535.1,307.07 L536.1,307.34 L537.1,307.59 L538.1,307.83 L539.1,308.05 L540.1,308.26 L541.1,308.45 L542.1,308.63 L543.1,308.80 L544.1,308.97 L545.1,309.12 L546.1,309.27 L547.1,309.40 L548.1,309.53 L549.1,309.65 L550.1,309.76 L551.1,309.87 L552.1,309.96 L553.1,310.04 L554.1,310.11 L555.1,310.18 L556.1,310.23 L557.1,310.27 L558.1,310.30 L559.1,310.32 L560.1,310.32 L561.1,310.32 L562.1,310.31 L563.1,310.28 L564.1,310.25 L565.1,310.20 L566.1,310.15 L567.1,310.09 L568.1,310.01 L569.1,309.93 L570.1,309.84 L571.1,309.74 L572.1,309.63 L573.1,309.51 L574.1,309.39 L575.1,309.26 L576.1,309.12 L577.1,308.98 L578.1,308.83 L579.1,308.68 L580.1,308.52 L581.1,308.37 L582.1,308.21 L583.1,308.04 L584.1,307.88 L585.1,307.72 L585.2,307.70" fill="none" stroke="#1b60ad" stroke-width="1.40" stroke-linejoin="round" stroke-linecap="round"/>
</g>
<g stroke="#333333" stroke-width="0.8"><line x1="29.8" x2="31.9" y1="404.50" y2="404.50"/><line x1="29.8" x2="31.9" y1="326.50" y2="326.50"/><line x1="29.8" x2="31.9" y1="248.50" y2="248.50"/><line x1="29.8" x2="31.9" y1="170.50" y2="170.50"/><line x1="29.8" x2="31.9" y1="92.50" y2="92.50"/><line x1="29.8" x2="31.9" y1="14.50" y2="14.50"/><line x1="77.50" x2="77.50" y1="423.0" y2="425.2"/><line x1="127.14" x2="127.14" y1="423.0" y2="425.2"/><line x1="175.71" x2="175.71" y1="423.0" y2="425.2"/><line x1="225.35" x2="225.35" y1="423.0" y2="425.2"/><line x1="274.99" x2="274.99" y1="423.0" y2="425.2"/><line x1="324.64" x2="324.64" y1="423.0" y2="425.2"/><line x1="372.66" x2="372.66" y1="423.0" y2="425.2"/><line x1="422.30" x2="422.30" y1="423.0" y2="425.2"/><line x1="471.95" x2="471.95" y1="423.0" y2="425.2"/><line x1="521.59" x2="521.59" y1="423.0" y2="425.2"/><line x1="569.62" x2="569.62" y1="423.0" y2="425.2"/><line x1="619.26" x2="619.26" y1="423.0" y2="425.2"/><line x1="668.90" x2="668.90" y1="423.0" y2="425.2"/><line x1="718.54" x2="718.54" y1="423.0" y2="425.2"/></g>
<g fill="#4d4d4d" font-size="7"><text x="29.1" y="407.00" text-anchor="end">0%</text><text x="29.1" y="329.00" text-anchor="end">10%</text><text x="29.1" y="251.00" text-anchor="end">20%</text><text x="29.1" y="173.00" text-anchor="end">30%</text><text x="29.1" y="95.00" text-anchor="end">40%</text><text x="29.1" y="17.00" text-anchor="end">50%</text><text x="77.50" y="431.00" text-anchor="middle">Nov 2019</text><text x="127.14" y="431.00" text-anchor="middle">Feb 2020</text><text x="175.71" y="431.00" text-anchor="middle">May 2020</text><text x="225.35" y="431.00" text-anchor="middle">Aug 2020</text><text x="274.99" y="431.00" text-anchor="middle">Nov 2020</text><text x="324.64" y="431.00" text-anchor="middle">Feb 2021</text><text x="372.66" y="431.00" text-anchor="middle">May 2021</text><text x="422.30" y="431.00" text-anchor="middle">Aug 2021</text><text x="471.95" y="431.00" text-anchor="middle">Nov 2021</text><text x="521.59" y="431.00" text-anchor="middle">Feb 2022</text><text x="569.62" y="431.00" text-anchor="middle">May 2022</text><text x="619.26" y="431.00" text-anchor="middle">Aug 2022</text><text x="668.90" y="431.00" text-anchor="middle">Nov 2022</text><text x="718.54" y="431.00" text-anchor="middle">Feb 2023</text></g>
<rect x="734.5" y="134.35" width="15.5" height="15.3" fill="#f4f4f4"/><line x1="736.8" x2="749" y1="142.00" y2="142.00" stroke="#15528f" stroke-width="2.2"/><text x="754.4" y="145.70" font-size="10.6" fill="#1a1a1a">Ennahda</text><rect x="734.5" y="149.65" width="15.5" height="15.3" fill="#f4f4f4"/><line x1="736.8" x2="749" y1="157.30" y2="157.30" stroke="#b3122c" stroke-width="2.2"/><text x="754.4" y="161.00" font-size="10.6" fill="#1a1a1a">Qalb</text><rect x="734.5" y="164.95" width="15.5" height="15.3" fill="#f4f4f4"/><line x1="736.8" x2="749" y1="172.60" y2="172.60" stroke="#ad6370" stroke-width="2.2"/><text x="754.4" y="176.30" font-size="10.6" fill="#1a1a1a">PDL</text><rect x="734.5" y="180.25" width="15.5" height="15.3" fill="#f4f4f4"/><line x1="736.8" x2="749" y1="187.90" y2="187.90" stroke="#e56d15" stroke-width="2.2"/><text x="754.4" y="191.60" font-size="10.6" fill="#1a1a1a">Tayyar</text><rect x="734.5" y="195.55" width="15.5" height="15.3" fill="#f4f4f4"/><line x1="736.8" x2="749" y1="203.20" y2="203.20" stroke="#2e5e48" stroke-width="2.2"/><text x="754.4" y="206.90" font-size="10.6" fill="#1a1a1a">Karama</text><rect x="734.5" y="210.85" width="15.5" height="15.3" fill="#f4f4f4"/><line x1="736.8" x2="749" y1="218.50" y2="218.50" stroke="#c3324c" stroke-width="2.2"/><text x="754.4" y="222.20" font-size="10.6" fill="#1a1a1a">MDP</text><rect x="734.5" y="226.15" width="15.5" height="15.3" fill="#f4f4f4"/><line x1="736.8" x2="749" y1="233.80" y2="233.80" stroke="#8a1111" stroke-width="2.2"/><text x="754.4" y="237.50" font-size="10.6" fill="#1a1a1a">Tahya</text><rect x="734.5" y="241.45" width="15.5" height="15.3" fill="#f4f4f4"/><line x1="736.8" x2="749" y1="249.10" y2="249.10" stroke="#eea01e" stroke-width="2.2"/><text x="754.4" y="252.80" font-size="10.6" fill="#1a1a1a">Afek</text><rect x="734.5" y="256.75" width="15.5" height="15.3" fill="#f4f4f4"/><line x1="736.8" x2="749" y1="264.40" y2="264.40" stroke="#bb2a4a" stroke-width="2.2"/><text x="754.4" y="268.10" font-size="10.6" fill="#1a1a1a">Nidaa</text><rect x="734.5" y="272.05" width="15.5" height="15.3" fill="#f4f4f4"/><line x1="736.8" x2="749" y1="279.70" y2="279.70" stroke="#141414" stroke-width="2.2"/><text x="754.4" y="283.40" font-size="10.6" fill="#1a1a1a">Kais</text><rect x="734.5" y="287.35" width="15.5" height="15.3" fill="#f4f4f4"/><line x1="736.8" x2="749" y1="295.00" y2="295.00" stroke="#aaa2a4" stroke-width="2.2"/><text x="754.4" y="298.70" font-size="10.6" fill="#1a1a1a">Safi</text>
</svg></body></html>
